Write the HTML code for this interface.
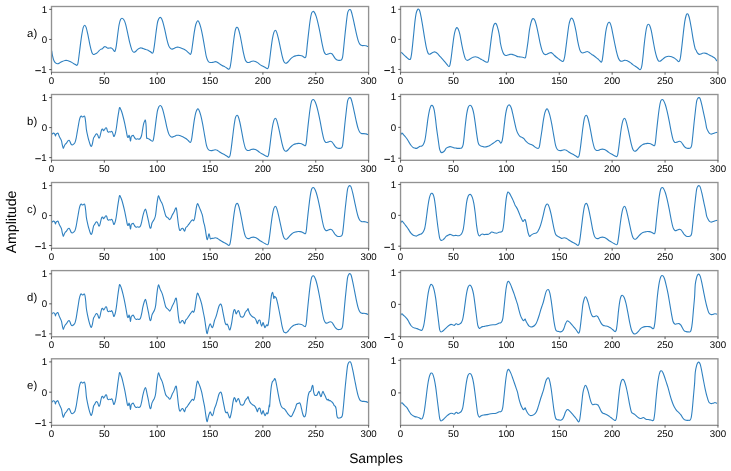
<!DOCTYPE html>
<html><head><meta charset="utf-8"><style>
html,body{margin:0;padding:0;background:#fff;}
svg{display:block;will-change:transform;}
text{font-family:"Liberation Sans",sans-serif;fill:#000;text-rendering:geometricPrecision;font-size:9.7px;}
</style></head><body>
<svg width="731" height="471" viewBox="0 0 731 471">
<rect width="731" height="471" fill="#fff"/>
<path d="M51.70 50.82C51.84 51.65 52.17 54.13 52.55 55.79C52.93 57.45 53.43 59.54 53.98 60.77C54.52 62.00 55.20 62.69 55.82 63.19C56.44 63.69 57.03 63.81 57.67 63.76C58.31 63.71 58.91 63.29 59.67 62.91C60.43 62.53 61.33 61.89 62.23 61.49C63.13 61.09 64.24 60.66 65.07 60.49C65.90 60.32 66.50 60.37 67.21 60.49C67.92 60.61 68.51 60.85 69.34 61.20C70.17 61.55 71.24 62.10 72.19 62.62C73.14 63.14 74.25 63.88 75.03 64.33C75.81 64.78 76.41 65.45 76.88 65.33C77.35 65.21 77.52 65.21 77.88 63.62C78.24 62.03 78.59 58.99 79.02 55.79C79.45 52.59 79.97 47.97 80.44 44.41C80.91 40.85 81.39 37.30 81.86 34.45C82.33 31.61 82.81 28.88 83.28 27.34C83.75 25.80 84.23 25.21 84.71 25.21C85.18 25.21 85.61 25.80 86.13 27.34C86.65 28.88 87.20 31.49 87.84 34.45C88.48 37.41 89.31 42.16 89.97 45.12C90.63 48.08 91.27 50.70 91.82 52.24C92.36 53.78 92.72 54.06 93.24 54.37C93.76 54.68 94.31 54.33 94.95 54.09C95.59 53.85 96.42 53.50 97.08 52.95C97.74 52.41 98.34 51.41 98.93 50.82C99.52 50.23 100.07 49.75 100.64 49.39C101.21 49.03 101.83 49.03 102.35 48.68C102.87 48.33 103.34 47.61 103.77 47.26C104.20 46.91 104.48 46.55 104.91 46.55C105.34 46.55 105.86 46.98 106.33 47.26C106.80 47.54 107.23 48.13 107.75 48.25C108.27 48.37 108.87 48.02 109.46 47.97C110.05 47.92 110.77 47.78 111.31 47.97C111.86 48.16 112.23 48.56 112.73 49.11C113.23 49.66 113.90 50.95 114.30 51.24C114.70 51.53 114.82 51.72 115.15 50.82C115.48 49.92 115.86 48.57 116.29 45.84C116.72 43.11 117.23 38.01 117.71 34.45C118.18 30.89 118.66 26.99 119.14 24.50C119.62 22.01 120.09 20.56 120.56 19.52C121.03 18.48 121.46 18.24 121.98 18.24C122.50 18.24 123.10 18.60 123.69 19.52C124.28 20.44 124.88 21.53 125.54 23.78C126.20 26.03 126.96 29.83 127.67 33.03C128.38 36.23 129.10 40.15 129.81 42.99C130.52 45.84 131.28 48.56 131.94 50.10C132.60 51.64 133.20 52.00 133.79 52.24C134.38 52.48 134.86 52.01 135.50 51.53C136.14 51.05 136.85 49.98 137.63 49.39C138.41 48.80 139.48 48.18 140.19 47.97C140.90 47.76 141.14 47.92 141.90 48.11C142.66 48.30 143.79 48.78 144.74 49.11C145.69 49.44 146.69 49.70 147.59 50.10C148.49 50.50 149.70 51.29 150.15 51.53C150.60 51.77 149.90 51.25 150.27 51.53C150.65 51.81 151.88 53.23 152.40 53.23C152.92 53.23 153.04 53.00 153.40 51.53C153.76 50.06 154.11 47.49 154.54 44.41C154.97 41.33 155.49 36.59 155.96 33.03C156.43 29.47 156.91 25.44 157.38 23.07C157.85 20.70 158.33 19.75 158.80 18.80C159.28 17.85 159.75 17.38 160.23 17.38C160.70 17.38 161.13 17.73 161.65 18.80C162.17 19.87 162.77 21.65 163.36 23.78C163.95 25.91 164.59 28.88 165.21 31.61C165.83 34.34 166.47 37.78 167.06 40.15C167.65 42.52 168.19 44.47 168.76 45.84C169.33 47.22 169.88 47.85 170.47 48.40C171.06 48.95 171.66 49.13 172.32 49.11C172.98 49.09 173.74 48.56 174.45 48.25C175.16 47.94 175.88 47.42 176.59 47.26C177.30 47.09 178.01 47.14 178.72 47.26C179.43 47.38 180.10 47.69 180.86 47.97C181.62 48.25 182.44 48.57 183.27 48.97C184.10 49.37 184.99 49.77 185.84 50.39C186.69 51.01 187.64 52.00 188.40 52.66C189.16 53.32 189.87 54.56 190.39 54.37C190.91 54.18 191.10 53.66 191.53 51.53C191.96 49.40 192.48 44.89 192.95 41.57C193.42 38.25 193.90 34.45 194.37 31.61C194.84 28.77 195.27 26.28 195.79 24.50C196.31 22.72 196.98 21.37 197.50 20.94C198.02 20.51 198.38 20.86 198.92 21.93C199.46 23.00 200.15 25.02 200.77 27.34C201.39 29.66 201.98 32.56 202.62 35.88C203.26 39.20 203.98 43.70 204.62 47.26C205.26 50.82 205.85 54.85 206.47 57.22C207.09 59.59 207.67 60.61 208.31 61.49C208.95 62.37 209.55 62.34 210.31 62.48C211.07 62.62 212.02 62.48 212.87 62.34C213.72 62.20 214.72 61.65 215.43 61.63C216.14 61.61 216.50 61.87 217.14 62.20C217.78 62.53 218.44 63.07 219.27 63.62C220.10 64.16 221.16 64.92 222.11 65.47C223.06 66.02 224.13 66.44 224.96 66.89C225.79 67.34 226.45 67.77 227.09 68.17C227.73 68.57 228.33 69.36 228.80 69.31C229.28 69.26 229.56 69.19 229.94 67.89C230.32 66.59 230.65 64.45 231.08 61.49C231.51 58.53 232.03 53.90 232.50 50.10C232.97 46.30 233.44 42.04 233.92 38.72C234.39 35.40 234.88 32.09 235.35 30.19C235.82 28.29 236.30 27.62 236.77 27.34C237.24 27.05 237.67 27.30 238.19 28.48C238.71 29.66 239.33 32.03 239.90 34.45C240.47 36.87 241.02 39.91 241.61 42.99C242.20 46.07 242.84 50.11 243.46 52.95C244.08 55.80 244.72 58.52 245.31 60.06C245.90 61.60 246.44 61.80 247.01 62.20C247.58 62.60 248.27 62.48 248.72 62.48C249.17 62.48 249.29 62.37 249.69 62.20C250.09 62.04 250.52 61.68 251.11 61.49C251.70 61.30 252.54 61.06 253.25 61.06C253.96 61.06 254.67 61.23 255.38 61.49C256.09 61.75 256.81 62.15 257.52 62.62C258.23 63.09 258.82 63.76 259.65 64.33C260.48 64.90 261.55 65.50 262.50 66.04C263.45 66.59 264.51 67.17 265.34 67.60C266.17 68.03 266.95 68.67 267.47 68.60C267.99 68.53 268.11 68.60 268.47 67.18C268.83 65.76 269.18 63.14 269.61 60.06C270.04 56.98 270.56 52.24 271.03 48.68C271.50 45.12 271.97 41.45 272.45 38.72C272.93 35.99 273.40 33.74 273.88 32.32C274.36 30.90 274.83 30.19 275.30 30.19C275.77 30.19 276.20 30.90 276.72 32.32C277.24 33.74 277.84 36.23 278.43 38.72C279.02 41.21 279.66 44.41 280.28 47.26C280.90 50.10 281.54 53.42 282.13 55.79C282.72 58.16 283.27 60.26 283.84 61.49C284.41 62.72 284.95 63.02 285.54 63.19C286.13 63.35 286.73 63.00 287.39 62.48C288.05 61.96 288.82 60.82 289.53 60.06C290.24 59.30 290.95 58.52 291.66 57.93C292.37 57.34 293.08 56.87 293.79 56.51C294.50 56.15 295.22 55.98 295.93 55.79C296.64 55.60 297.35 55.42 298.06 55.37C298.77 55.32 299.49 55.39 300.20 55.51C300.91 55.63 301.69 55.80 302.33 56.08C302.97 56.36 303.52 56.98 304.04 57.22C304.56 57.46 305.08 57.98 305.46 57.50C305.84 57.02 306.00 56.55 306.31 54.37C306.62 52.19 306.91 48.20 307.31 44.41C307.71 40.62 308.25 35.64 308.73 31.61C309.21 27.58 309.69 23.31 310.16 20.23C310.63 17.15 311.11 14.58 311.58 13.11C312.05 11.64 312.53 11.53 313.00 11.41C313.47 11.29 313.88 11.52 314.42 12.40C314.97 13.28 315.68 14.89 316.27 16.67C316.86 18.45 317.34 20.34 317.98 23.07C318.62 25.80 319.40 29.47 320.11 33.03C320.82 36.59 321.61 41.33 322.25 44.41C322.89 47.49 323.37 49.87 323.96 51.53C324.55 53.19 325.15 53.94 325.81 54.37C326.47 54.80 327.23 54.28 327.94 54.09C328.65 53.90 329.41 53.28 330.07 53.23C330.73 53.18 331.33 53.32 331.92 53.80C332.51 54.27 333.06 55.27 333.63 56.08C334.20 56.89 334.75 57.98 335.34 58.64C335.93 59.30 336.53 59.78 337.19 60.06C337.85 60.34 338.61 60.40 339.32 60.35C340.03 60.30 340.91 60.30 341.46 59.78C342.00 59.26 342.23 59.07 342.59 57.22C342.94 55.37 343.19 52.48 343.59 48.68C343.99 44.88 344.53 38.96 345.01 34.45C345.49 29.95 346.01 25.21 346.44 21.65C346.87 18.09 347.20 15.01 347.58 13.11C347.96 11.21 348.32 10.86 348.72 10.27C349.12 9.68 349.60 9.44 350.00 9.56C350.40 9.68 350.67 9.68 351.14 10.98C351.61 12.28 352.25 14.89 352.84 17.38C353.43 19.87 354.07 23.08 354.69 25.92C355.31 28.77 355.95 31.96 356.54 34.45C357.13 36.94 357.68 39.20 358.25 40.86C358.82 42.52 359.37 43.63 359.96 44.41C360.55 45.19 361.15 45.36 361.81 45.55C362.47 45.74 363.23 45.50 363.94 45.55C364.65 45.60 365.41 45.67 366.07 45.84C366.73 46.01 367.61 46.43 367.92 46.55" fill="none" stroke="#2f80c0" stroke-width="1.10" stroke-linejoin="round" stroke-linecap="round"/>
<rect x="51.50" y="6.50" width="317.10" height="65.90" fill="none" stroke="#929292" stroke-width="1.35"/>
<line x1="51.50" y1="72.40" x2="51.50" y2="74.70" stroke="#333" stroke-width="0.8"/>
<text x="51.50" y="83.85" text-anchor="middle">0</text>
<line x1="104.35" y1="72.40" x2="104.35" y2="74.70" stroke="#333" stroke-width="0.8"/>
<text x="104.35" y="83.85" text-anchor="middle">50</text>
<line x1="157.20" y1="72.40" x2="157.20" y2="74.70" stroke="#333" stroke-width="0.8"/>
<text x="157.20" y="83.85" text-anchor="middle">100</text>
<line x1="210.05" y1="72.40" x2="210.05" y2="74.70" stroke="#333" stroke-width="0.8"/>
<text x="210.05" y="83.85" text-anchor="middle">150</text>
<line x1="262.90" y1="72.40" x2="262.90" y2="74.70" stroke="#333" stroke-width="0.8"/>
<text x="262.90" y="83.85" text-anchor="middle">200</text>
<line x1="315.75" y1="72.40" x2="315.75" y2="74.70" stroke="#333" stroke-width="0.8"/>
<text x="315.75" y="83.85" text-anchor="middle">250</text>
<line x1="368.60" y1="72.40" x2="368.60" y2="74.70" stroke="#333" stroke-width="0.8"/>
<text x="368.60" y="83.85" text-anchor="middle">300</text>
<line x1="49.20" y1="9.36" x2="51.50" y2="9.36" stroke="#333" stroke-width="0.8"/>
<text x="47.10" y="12.86" text-anchor="end">1</text>
<line x1="49.20" y1="39.45" x2="51.50" y2="39.45" stroke="#333" stroke-width="0.8"/>
<text x="47.10" y="42.95" text-anchor="end">0</text>
<line x1="49.20" y1="69.55" x2="51.50" y2="69.55" stroke="#333" stroke-width="0.8"/>
<text x="46.60" y="73.15" text-anchor="end">1</text>
<rect x="35.30" y="70.20" width="5.6" height="0.95" fill="#000"/>
<path d="M400.84 52.24C401.03 52.36 401.55 52.60 401.98 52.95C402.41 53.30 402.85 53.85 403.40 54.37C403.94 54.89 404.61 55.49 405.25 56.08C405.89 56.67 406.60 57.38 407.24 57.93C407.88 58.48 408.54 59.19 409.09 59.35C409.64 59.52 410.12 59.75 410.52 58.92C410.92 58.09 411.15 56.79 411.51 54.37C411.87 51.95 412.27 47.97 412.65 44.41C413.03 40.85 413.41 36.82 413.79 33.03C414.17 29.24 414.53 24.97 414.93 21.65C415.33 18.33 415.76 15.12 416.21 13.11C416.66 11.09 417.23 10.22 417.63 9.56C418.03 8.90 418.27 8.89 418.63 9.13C418.99 9.37 419.33 9.61 419.76 10.98C420.19 12.36 420.67 14.65 421.19 17.38C421.71 20.11 422.30 23.78 422.89 27.34C423.48 30.90 424.12 35.16 424.74 38.72C425.36 42.28 426.00 46.19 426.59 48.68C427.18 51.17 427.73 52.76 428.30 53.66C428.87 54.56 429.42 54.21 430.01 54.09C430.60 53.97 431.20 53.31 431.86 52.95C432.52 52.59 433.35 52.07 433.99 51.95C434.63 51.83 435.11 51.96 435.70 52.24C436.29 52.52 436.89 53.02 437.55 53.66C438.21 54.30 438.97 55.30 439.68 56.08C440.39 56.86 441.11 57.58 441.82 58.36C442.53 59.14 443.24 59.94 443.95 60.77C444.66 61.60 445.42 62.51 446.08 63.34C446.74 64.17 447.45 65.23 447.93 65.75C448.41 66.27 448.60 66.59 448.93 66.47C449.26 66.35 449.56 66.34 449.92 65.04C450.28 63.74 450.63 61.60 451.06 58.64C451.49 55.68 452.01 50.93 452.49 47.26C452.97 43.59 453.44 39.44 453.91 36.59C454.38 33.75 454.86 31.68 455.33 30.19C455.80 28.70 456.27 27.82 456.75 27.63C457.23 27.44 457.66 27.91 458.18 29.05C458.70 30.19 459.29 31.89 459.88 34.45C460.47 37.01 461.11 41.33 461.73 44.41C462.35 47.49 462.99 50.58 463.58 52.95C464.17 55.32 464.72 57.41 465.29 58.64C465.86 59.87 466.41 60.16 467.00 60.35C467.59 60.54 468.19 60.11 468.85 59.78C469.51 59.45 470.27 58.79 470.98 58.36C471.69 57.93 472.40 57.48 473.11 57.22C473.82 56.96 474.54 56.79 475.25 56.79C475.96 56.79 476.67 56.96 477.38 57.22C478.09 57.48 478.81 57.96 479.52 58.36C480.23 58.76 480.94 59.24 481.65 59.64C482.36 60.04 483.08 60.39 483.79 60.77C484.50 61.15 485.33 61.67 485.92 61.91C486.51 62.15 486.94 62.39 487.34 62.20C487.74 62.01 487.98 62.31 488.34 60.77C488.70 59.23 489.05 56.15 489.48 52.95C489.91 49.75 490.43 45.13 490.90 41.57C491.37 38.01 491.85 34.34 492.32 31.61C492.79 28.88 493.26 26.59 493.74 25.21C494.22 23.84 494.70 23.48 495.17 23.36C495.64 23.24 496.07 23.36 496.59 24.50C497.11 25.64 497.78 28.06 498.30 30.19C498.82 32.32 499.37 35.17 499.72 37.30C500.07 39.43 500.01 40.86 500.41 42.99C500.81 45.12 501.54 48.25 502.11 50.10C502.68 51.95 503.23 53.19 503.82 54.09C504.41 54.99 505.01 55.34 505.67 55.51C506.33 55.67 507.09 55.27 507.80 55.08C508.51 54.89 509.23 54.49 509.94 54.37C510.65 54.25 511.36 54.25 512.07 54.37C512.78 54.49 513.50 54.80 514.21 55.08C514.92 55.36 515.63 55.80 516.34 56.08C517.05 56.36 517.76 56.65 518.47 56.79C519.18 56.93 519.90 56.86 520.61 56.93C521.32 57.00 522.08 57.05 522.74 57.22C523.40 57.39 524.12 57.93 524.59 57.93C525.07 57.93 525.26 58.29 525.59 57.22C525.92 56.15 526.18 54.14 526.58 51.53C526.98 48.92 527.53 45.13 528.01 41.57C528.49 38.01 528.96 33.27 529.43 30.19C529.90 27.11 530.38 24.92 530.85 23.07C531.32 21.22 531.79 19.80 532.27 19.09C532.75 18.38 533.23 18.49 533.70 18.80C534.18 19.11 534.65 19.75 535.12 20.94C535.59 22.13 536.00 23.67 536.54 25.92C537.08 28.17 537.77 31.49 538.39 34.45C539.01 37.41 539.65 41.09 540.24 43.70C540.83 46.31 541.38 48.44 541.95 50.10C542.52 51.76 543.07 52.90 543.66 53.66C544.25 54.42 544.89 54.59 545.51 54.66C546.13 54.73 546.72 54.38 547.36 54.09C548.00 53.81 548.71 53.19 549.35 52.95C549.99 52.71 550.66 52.54 551.20 52.66C551.75 52.78 552.08 53.18 552.62 53.66C553.16 54.13 553.83 54.92 554.47 55.51C555.11 56.10 555.75 56.65 556.46 57.22C557.17 57.79 558.03 58.40 558.74 58.92C559.45 59.44 560.09 59.92 560.73 60.35C561.37 60.78 562.11 61.42 562.58 61.49C563.05 61.56 563.22 61.60 563.57 60.77C563.93 59.94 564.28 59.00 564.71 56.51C565.14 54.02 565.66 49.52 566.14 45.84C566.62 42.16 567.09 38.01 567.56 34.45C568.03 30.89 568.51 26.99 568.98 24.50C569.45 22.01 569.97 20.59 570.40 19.52C570.83 18.45 571.11 18.09 571.54 18.09C571.97 18.09 572.49 18.57 572.96 19.52C573.44 20.47 573.87 21.77 574.39 23.78C574.91 25.80 575.52 28.64 576.09 31.61C576.66 34.58 577.21 38.61 577.80 41.57C578.39 44.53 579.11 47.61 579.65 49.39C580.19 51.17 580.53 51.65 581.07 52.24C581.62 52.83 582.28 52.95 582.92 52.95C583.56 52.95 584.21 52.48 584.92 52.24C585.63 52.00 586.53 51.53 587.19 51.53C587.85 51.53 588.33 51.89 588.90 52.24C589.47 52.59 589.95 53.19 590.61 53.66C591.27 54.13 592.17 54.60 592.88 55.08C593.59 55.55 594.16 55.96 594.87 56.51C595.58 57.06 596.56 57.89 597.15 58.36C597.74 58.83 597.92 58.88 598.41 59.35C598.90 59.82 599.64 60.73 600.11 61.20C600.58 61.68 600.89 62.39 601.25 62.20C601.61 62.01 601.92 61.60 602.25 60.06C602.58 58.52 602.88 55.80 603.24 52.95C603.60 50.11 603.95 46.55 604.38 42.99C604.81 39.43 605.32 34.57 605.80 31.61C606.27 28.65 606.75 26.75 607.23 25.21C607.71 23.67 608.18 22.72 608.65 22.36C609.12 22.00 609.60 22.24 610.07 23.07C610.55 23.90 611.02 25.44 611.50 27.34C611.98 29.24 612.40 31.84 612.92 34.45C613.44 37.06 614.04 40.14 614.63 42.99C615.22 45.84 615.86 49.04 616.47 51.53C617.09 54.02 617.73 56.39 618.32 57.93C618.91 59.47 619.39 60.23 620.03 60.77C620.67 61.32 621.46 61.27 622.17 61.20C622.88 61.13 623.59 60.47 624.30 60.35C625.01 60.23 625.72 60.30 626.43 60.49C627.14 60.68 627.86 61.09 628.57 61.49C629.28 61.89 629.99 62.39 630.70 62.91C631.41 63.43 632.13 64.10 632.84 64.62C633.55 65.14 634.26 65.57 634.97 66.04C635.68 66.51 636.46 66.99 637.10 67.46C637.74 67.93 638.33 68.52 638.81 68.88C639.28 69.24 639.57 69.65 639.95 69.60C640.33 69.55 640.74 69.48 641.09 68.60C641.45 67.72 641.75 66.47 642.08 64.33C642.41 62.20 642.72 59.11 643.08 55.79C643.44 52.47 643.79 48.20 644.22 44.41C644.65 40.62 645.17 36.11 645.64 33.03C646.11 29.95 646.58 27.39 647.06 25.92C647.53 24.45 648.01 24.21 648.49 24.21C648.97 24.21 649.44 24.81 649.91 25.92C650.38 27.04 650.81 28.53 651.33 30.90C651.85 33.27 652.45 36.95 653.04 40.15C653.63 43.35 654.27 47.26 654.89 50.10C655.51 52.95 656.15 55.44 656.74 57.22C657.33 59.00 657.87 60.11 658.44 60.77C659.01 61.43 659.56 61.37 660.15 61.20C660.74 61.04 661.34 60.33 662.00 59.78C662.66 59.23 663.43 58.43 664.14 57.93C664.85 57.43 665.56 57.08 666.27 56.79C666.98 56.50 667.69 56.27 668.40 56.22C669.11 56.17 669.83 56.34 670.54 56.51C671.25 56.68 671.96 56.91 672.67 57.22C673.38 57.53 674.10 57.89 674.81 58.36C675.52 58.83 676.35 59.54 676.94 60.06C677.53 60.58 677.93 61.32 678.36 61.49C678.79 61.66 679.14 61.77 679.50 61.06C679.86 60.35 680.10 59.76 680.50 57.22C680.90 54.68 681.45 49.87 681.92 45.84C682.39 41.81 682.87 37.06 683.34 33.03C683.81 29.00 684.28 24.61 684.76 21.65C685.24 18.69 685.79 16.55 686.19 15.25C686.59 13.95 686.82 13.89 687.18 13.82C687.53 13.75 687.89 13.87 688.32 14.82C688.75 15.77 689.22 17.20 689.74 19.52C690.26 21.84 690.86 25.32 691.45 28.76C692.04 32.20 692.68 36.83 693.30 40.15C693.92 43.47 694.70 47.02 695.15 48.68C695.60 50.34 695.62 49.39 696.00 50.10C696.38 50.81 696.88 52.24 697.42 52.95C697.96 53.66 698.56 54.25 699.27 54.37C699.98 54.49 700.93 53.90 701.69 53.66C702.45 53.42 703.12 53.00 703.83 52.95C704.54 52.90 705.25 53.14 705.96 53.38C706.67 53.62 707.38 54.02 708.09 54.37C708.80 54.72 709.52 55.15 710.23 55.51C710.94 55.87 711.72 56.18 712.36 56.51C713.00 56.84 713.55 57.10 714.07 57.50C714.59 57.90 715.06 58.38 715.49 58.92C715.92 59.47 716.44 60.46 716.63 60.77" fill="none" stroke="#2f80c0" stroke-width="1.10" stroke-linejoin="round" stroke-linecap="round"/>
<rect x="400.55" y="6.50" width="317.40" height="65.90" fill="none" stroke="#929292" stroke-width="1.35"/>
<line x1="400.55" y1="72.40" x2="400.55" y2="74.70" stroke="#333" stroke-width="0.8"/>
<text x="400.55" y="83.85" text-anchor="middle">0</text>
<line x1="453.45" y1="72.40" x2="453.45" y2="74.70" stroke="#333" stroke-width="0.8"/>
<text x="453.45" y="83.85" text-anchor="middle">50</text>
<line x1="506.35" y1="72.40" x2="506.35" y2="74.70" stroke="#333" stroke-width="0.8"/>
<text x="506.35" y="83.85" text-anchor="middle">100</text>
<line x1="559.25" y1="72.40" x2="559.25" y2="74.70" stroke="#333" stroke-width="0.8"/>
<text x="559.25" y="83.85" text-anchor="middle">150</text>
<line x1="612.15" y1="72.40" x2="612.15" y2="74.70" stroke="#333" stroke-width="0.8"/>
<text x="612.15" y="83.85" text-anchor="middle">200</text>
<line x1="665.05" y1="72.40" x2="665.05" y2="74.70" stroke="#333" stroke-width="0.8"/>
<text x="665.05" y="83.85" text-anchor="middle">250</text>
<line x1="717.95" y1="72.40" x2="717.95" y2="74.70" stroke="#333" stroke-width="0.8"/>
<text x="717.95" y="83.85" text-anchor="middle">300</text>
<line x1="398.25" y1="9.30" x2="400.55" y2="9.30" stroke="#333" stroke-width="0.8"/>
<text x="396.15" y="12.80" text-anchor="end">1</text>
<line x1="398.25" y1="39.38" x2="400.55" y2="39.38" stroke="#333" stroke-width="0.8"/>
<text x="396.15" y="42.88" text-anchor="end">0</text>
<line x1="398.25" y1="69.45" x2="400.55" y2="69.45" stroke="#333" stroke-width="0.8"/>
<text x="395.65" y="73.05" text-anchor="end">1</text>
<rect x="384.35" y="70.10" width="5.6" height="0.95" fill="#000"/>
<text x="27.1" y="36.90" style="font-size:11.3px">a)</text>
<path d="M51.70 134.55C51.84 134.38 52.22 133.79 52.55 133.55C52.88 133.31 53.31 133.03 53.69 133.12C54.07 133.22 54.55 133.65 54.83 134.12C55.11 134.59 55.21 135.90 55.40 135.97C55.59 136.04 55.73 134.95 55.97 134.55C56.21 134.15 56.49 133.79 56.82 133.55C57.15 133.31 57.58 132.72 57.96 133.12C58.34 133.52 58.67 135.02 59.10 135.97C59.53 136.92 60.12 137.99 60.52 138.82C60.92 139.65 61.24 140.00 61.52 140.95C61.80 141.90 61.95 143.32 62.23 144.51C62.51 145.69 62.94 147.66 63.22 148.06C63.50 148.46 63.62 147.51 63.93 146.92C64.24 146.33 64.64 145.15 65.07 144.51C65.50 143.87 66.03 143.67 66.50 143.08C66.97 142.49 67.49 141.42 67.92 140.95C68.35 140.48 68.70 140.12 69.06 140.24C69.42 140.36 69.72 141.02 70.05 141.66C70.38 142.30 70.69 143.54 71.05 144.08C71.41 144.62 71.76 144.93 72.19 144.93C72.62 144.93 73.14 144.51 73.61 144.08C74.08 143.65 74.60 143.37 75.03 142.37C75.46 141.37 75.81 139.76 76.17 138.10C76.53 136.44 76.84 134.31 77.17 132.41C77.50 130.51 77.80 128.74 78.16 126.72C78.52 124.70 78.92 121.98 79.30 120.32C79.68 118.66 80.08 117.47 80.44 116.76C80.80 116.05 81.10 116.00 81.43 116.05C81.76 116.10 82.12 116.93 82.43 117.05C82.74 117.17 82.97 116.93 83.28 116.76C83.59 116.59 84.00 115.93 84.28 116.05C84.56 116.17 84.75 116.40 84.99 117.47C85.23 118.54 85.46 120.43 85.70 122.45C85.94 124.47 86.10 127.44 86.41 129.57C86.72 131.70 87.12 133.36 87.55 135.26C87.98 137.16 88.50 139.29 88.97 140.95C89.44 142.61 90.00 144.32 90.40 145.22C90.80 146.12 91.06 146.60 91.39 146.36C91.72 146.12 92.03 145.17 92.39 143.79C92.75 142.41 93.15 139.33 93.53 138.10C93.91 136.87 94.30 136.99 94.66 136.40C95.02 135.81 95.33 134.98 95.66 134.55C95.99 134.12 96.30 133.72 96.66 133.84C97.02 133.96 97.41 134.55 97.79 135.26C98.17 135.97 98.57 137.86 98.93 138.10C99.29 138.34 99.60 137.63 99.93 136.68C100.26 135.73 100.61 133.59 100.92 132.41C101.23 131.22 101.47 130.09 101.78 129.57C102.09 129.05 102.48 129.09 102.77 129.28C103.05 129.47 103.18 130.66 103.49 130.71C103.80 130.76 104.27 130.04 104.62 129.57C104.98 129.09 105.29 128.10 105.62 127.86C105.95 127.62 106.31 127.58 106.62 128.15C106.93 128.72 107.16 130.61 107.47 131.27C107.78 131.93 108.14 132.06 108.47 132.13C108.80 132.20 109.10 131.72 109.46 131.70C109.81 131.68 110.22 132.06 110.60 131.99C110.98 131.92 111.38 131.08 111.74 131.27C112.09 131.46 112.40 132.27 112.73 133.12C113.06 133.97 113.42 136.00 113.73 136.40C114.04 136.80 114.27 136.20 114.58 135.54C114.89 134.88 115.25 133.88 115.58 132.41C115.91 130.94 116.21 129.09 116.57 126.72C116.92 124.35 117.33 120.80 117.71 118.19C118.09 115.58 118.54 112.85 118.85 111.07C119.16 109.29 119.28 107.88 119.56 107.52C119.84 107.16 120.20 108.23 120.56 108.94C120.92 109.65 121.27 110.48 121.70 111.78C122.13 113.08 122.60 114.74 123.12 116.76C123.64 118.78 124.31 121.51 124.83 123.88C125.35 126.25 125.82 128.86 126.25 130.99C126.68 133.12 127.06 135.61 127.39 136.68C127.72 137.75 127.96 137.63 128.24 137.39C128.52 137.15 128.81 135.14 129.09 135.26C129.38 135.38 129.71 137.15 129.95 138.10C130.19 139.05 130.31 141.19 130.52 140.95C130.73 140.71 130.99 137.51 131.23 136.68C131.47 135.85 131.63 136.21 131.94 135.97C132.25 135.73 132.73 135.14 133.08 135.26C133.44 135.38 133.74 136.16 134.07 136.68C134.40 137.20 134.71 137.96 135.07 138.39C135.43 138.82 135.78 139.17 136.21 139.24C136.64 139.31 137.16 138.82 137.63 138.82C138.10 138.82 138.58 139.36 139.05 139.24C139.53 139.12 140.05 138.76 140.48 138.10C140.91 137.44 141.25 136.68 141.61 135.26C141.97 133.84 142.28 131.47 142.61 129.57C142.94 127.67 143.26 125.30 143.61 123.88C143.97 122.46 144.43 121.62 144.74 121.03C145.05 120.44 145.22 119.37 145.46 120.32C145.70 121.27 145.98 123.88 146.17 126.72C146.36 129.56 146.35 135.44 146.59 137.39C146.83 139.33 147.14 138.08 147.59 138.39C148.04 138.70 148.78 138.93 149.30 139.24C149.82 139.55 150.20 139.90 150.72 140.24C151.24 140.58 151.95 141.39 152.40 141.28C152.85 141.17 153.04 141.05 153.40 139.58C153.76 138.11 154.11 135.54 154.54 132.46C154.97 129.38 155.49 124.64 155.96 121.08C156.43 117.52 156.91 113.49 157.38 111.12C157.85 108.75 158.33 107.80 158.80 106.85C159.28 105.90 159.75 105.43 160.23 105.43C160.70 105.43 161.13 105.78 161.65 106.85C162.17 107.92 162.77 109.69 163.36 111.83C163.95 113.97 164.59 116.93 165.21 119.66C165.83 122.39 166.47 125.83 167.06 128.20C167.65 130.57 168.19 132.51 168.76 133.89C169.33 135.26 169.88 135.90 170.47 136.45C171.06 137.00 171.66 137.19 172.32 137.16C172.98 137.13 173.74 136.61 174.45 136.30C175.16 135.99 175.88 135.47 176.59 135.31C177.30 135.15 178.01 135.19 178.72 135.31C179.43 135.43 180.10 135.73 180.86 136.02C181.62 136.30 182.44 136.62 183.27 137.02C184.10 137.42 184.99 137.82 185.84 138.44C186.69 139.06 187.64 140.05 188.40 140.71C189.16 141.37 189.87 142.61 190.39 142.42C190.91 142.23 191.10 141.71 191.53 139.58C191.96 137.45 192.48 132.94 192.95 129.62C193.42 126.30 193.90 122.50 194.37 119.66C194.84 116.81 195.27 114.33 195.79 112.55C196.31 110.77 196.98 109.42 197.50 108.99C198.02 108.56 198.38 108.91 198.92 109.98C199.46 111.05 200.15 113.06 200.77 115.39C201.39 117.72 201.98 120.61 202.62 123.93C203.26 127.25 203.98 131.75 204.62 135.31C205.26 138.87 205.85 142.90 206.47 145.27C207.09 147.64 207.67 148.66 208.31 149.54C208.95 150.42 209.55 150.39 210.31 150.53C211.07 150.67 212.02 150.53 212.87 150.39C213.72 150.25 214.72 149.70 215.43 149.68C216.14 149.66 216.50 149.92 217.14 150.25C217.78 150.58 218.44 151.12 219.27 151.67C220.10 152.21 221.16 152.97 222.11 153.52C223.06 154.06 224.13 154.49 224.96 154.94C225.79 155.39 226.45 155.82 227.09 156.22C227.73 156.62 228.33 157.41 228.80 157.36C229.28 157.31 229.56 157.24 229.94 155.94C230.32 154.64 230.65 152.50 231.08 149.54C231.51 146.57 232.03 141.94 232.50 138.15C232.97 134.36 233.44 130.09 233.92 126.77C234.39 123.45 234.88 120.14 235.35 118.24C235.82 116.34 236.30 115.67 236.77 115.39C237.24 115.11 237.67 115.34 238.19 116.53C238.71 117.72 239.33 120.08 239.90 122.50C240.47 124.92 241.02 127.96 241.61 131.04C242.20 134.12 242.84 138.16 243.46 141.00C244.08 143.84 244.72 146.57 245.31 148.11C245.90 149.65 246.44 149.85 247.01 150.25C247.58 150.65 248.27 150.53 248.72 150.53C249.17 150.53 249.29 150.41 249.69 150.25C250.09 150.09 250.52 149.73 251.11 149.54C251.70 149.35 252.54 149.11 253.25 149.11C253.96 149.11 254.67 149.28 255.38 149.54C256.09 149.80 256.81 150.20 257.52 150.67C258.23 151.14 258.82 151.81 259.65 152.38C260.48 152.95 261.55 153.55 262.50 154.09C263.45 154.63 264.51 155.22 265.34 155.65C266.17 156.08 266.95 156.72 267.47 156.65C267.99 156.58 268.11 156.65 268.47 155.23C268.83 153.81 269.18 151.19 269.61 148.11C270.04 145.03 270.56 140.29 271.03 136.73C271.50 133.17 271.97 129.50 272.45 126.77C272.93 124.04 273.40 121.79 273.88 120.37C274.36 118.95 274.83 118.24 275.30 118.24C275.77 118.24 276.20 118.95 276.72 120.37C277.24 121.79 277.84 124.28 278.43 126.77C279.02 129.26 279.66 132.47 280.28 135.31C280.90 138.16 281.54 141.47 282.13 143.84C282.72 146.21 283.27 148.31 283.84 149.54C284.41 150.77 284.95 151.08 285.54 151.24C286.13 151.41 286.73 151.05 287.39 150.53C288.05 150.01 288.82 148.87 289.53 148.11C290.24 147.35 290.95 146.57 291.66 145.98C292.37 145.39 293.08 144.92 293.79 144.56C294.50 144.20 295.22 144.03 295.93 143.84C296.64 143.65 297.35 143.47 298.06 143.42C298.77 143.37 299.49 143.44 300.20 143.56C300.91 143.68 301.69 143.84 302.33 144.13C302.97 144.41 303.52 145.03 304.04 145.27C304.56 145.51 305.08 146.03 305.46 145.55C305.84 145.08 306.00 144.60 306.31 142.42C306.62 140.24 306.91 136.25 307.31 132.46C307.71 128.67 308.25 123.69 308.73 119.66C309.21 115.63 309.69 111.36 310.16 108.28C310.63 105.20 311.11 102.63 311.58 101.16C312.05 99.69 312.53 99.58 313.00 99.46C313.47 99.34 313.88 99.57 314.42 100.45C314.97 101.33 315.68 102.94 316.27 104.72C316.86 106.50 317.34 108.39 317.98 111.12C318.62 113.85 319.40 117.52 320.11 121.08C320.82 124.64 321.61 129.38 322.25 132.46C322.89 135.54 323.37 137.92 323.96 139.58C324.55 141.24 325.15 141.99 325.81 142.42C326.47 142.85 327.23 142.33 327.94 142.14C328.65 141.95 329.41 141.33 330.07 141.28C330.73 141.23 331.33 141.38 331.92 141.85C332.51 142.32 333.06 143.32 333.63 144.13C334.20 144.94 334.75 146.03 335.34 146.69C335.93 147.35 336.53 147.83 337.19 148.11C337.85 148.40 338.61 148.45 339.32 148.40C340.03 148.35 340.91 148.35 341.46 147.83C342.00 147.31 342.23 147.12 342.59 145.27C342.94 143.42 343.19 140.52 343.59 136.73C343.99 132.94 344.53 127.00 345.01 122.50C345.49 118.00 346.01 113.26 346.44 109.70C346.87 106.14 347.20 103.06 347.58 101.16C347.96 99.26 348.32 98.91 348.72 98.32C349.12 97.73 349.60 97.49 350.00 97.61C350.40 97.73 350.67 97.73 351.14 99.03C351.61 100.33 352.25 102.94 352.84 105.43C353.43 107.92 354.07 111.12 354.69 113.97C355.31 116.81 355.95 120.01 356.54 122.50C357.13 124.99 357.68 127.25 358.25 128.91C358.82 130.57 359.37 131.68 359.96 132.46C360.55 133.24 361.15 133.41 361.81 133.60C362.47 133.79 363.23 133.55 363.94 133.60C364.65 133.65 365.41 133.72 366.07 133.89C366.73 134.06 367.61 134.48 367.92 134.60" fill="none" stroke="#2f80c0" stroke-width="1.10" stroke-linejoin="round" stroke-linecap="round"/>
<rect x="51.50" y="94.50" width="317.10" height="65.80" fill="none" stroke="#929292" stroke-width="1.35"/>
<line x1="51.50" y1="160.30" x2="51.50" y2="162.60" stroke="#333" stroke-width="0.8"/>
<text x="51.50" y="171.75" text-anchor="middle">0</text>
<line x1="104.35" y1="160.30" x2="104.35" y2="162.60" stroke="#333" stroke-width="0.8"/>
<text x="104.35" y="171.75" text-anchor="middle">50</text>
<line x1="157.20" y1="160.30" x2="157.20" y2="162.60" stroke="#333" stroke-width="0.8"/>
<text x="157.20" y="171.75" text-anchor="middle">100</text>
<line x1="210.05" y1="160.30" x2="210.05" y2="162.60" stroke="#333" stroke-width="0.8"/>
<text x="210.05" y="171.75" text-anchor="middle">150</text>
<line x1="262.90" y1="160.30" x2="262.90" y2="162.60" stroke="#333" stroke-width="0.8"/>
<text x="262.90" y="171.75" text-anchor="middle">200</text>
<line x1="315.75" y1="160.30" x2="315.75" y2="162.60" stroke="#333" stroke-width="0.8"/>
<text x="315.75" y="171.75" text-anchor="middle">250</text>
<line x1="368.60" y1="160.30" x2="368.60" y2="162.60" stroke="#333" stroke-width="0.8"/>
<text x="368.60" y="171.75" text-anchor="middle">300</text>
<line x1="49.20" y1="97.60" x2="51.50" y2="97.60" stroke="#333" stroke-width="0.8"/>
<text x="47.10" y="101.10" text-anchor="end">1</text>
<line x1="49.20" y1="127.60" x2="51.50" y2="127.60" stroke="#333" stroke-width="0.8"/>
<text x="47.10" y="131.10" text-anchor="end">0</text>
<line x1="49.20" y1="157.60" x2="51.50" y2="157.60" stroke="#333" stroke-width="0.8"/>
<text x="46.60" y="161.20" text-anchor="end">1</text>
<rect x="35.30" y="158.25" width="5.6" height="0.95" fill="#000"/>
<path d="M400.84 134.55C401.03 134.31 401.55 133.12 401.98 133.12C402.41 133.12 402.85 133.96 403.40 134.55C403.94 135.14 404.61 135.90 405.25 136.68C405.89 137.46 406.60 138.29 407.24 139.24C407.88 140.19 408.47 141.37 409.09 142.37C409.71 143.37 410.30 144.39 410.94 145.22C411.58 146.05 412.29 146.88 412.93 147.35C413.57 147.82 414.16 147.89 414.78 148.06C415.40 148.23 416.04 148.47 416.63 148.35C417.22 148.23 417.77 147.68 418.34 147.35C418.91 147.02 419.46 146.60 420.05 146.36C420.64 146.12 421.35 146.24 421.90 145.93C422.44 145.62 422.85 145.34 423.32 144.51C423.79 143.68 424.34 142.49 424.74 140.95C425.14 139.41 425.38 137.63 425.74 135.26C426.10 132.89 426.50 129.56 426.88 126.72C427.26 123.88 427.59 120.92 428.02 118.19C428.45 115.46 428.97 112.38 429.44 110.36C429.91 108.34 430.43 106.92 430.86 106.09C431.29 105.26 431.62 105.31 432.00 105.38C432.38 105.45 432.76 105.69 433.14 106.52C433.52 107.35 433.89 108.41 434.27 110.36C434.65 112.31 435.03 115.22 435.41 118.19C435.79 121.16 436.12 124.83 436.55 128.15C436.98 131.47 437.50 134.78 437.97 138.10C438.45 141.42 438.97 145.81 439.40 148.06C439.83 150.31 440.13 150.86 440.53 151.62C440.93 152.38 441.37 152.55 441.82 152.62C442.27 152.69 442.77 152.38 443.24 152.05C443.71 151.72 444.19 151.24 444.66 150.62C445.13 150.00 445.53 148.89 446.08 148.35C446.62 147.81 447.29 147.63 447.93 147.35C448.57 147.06 449.28 146.71 449.92 146.64C450.56 146.57 451.15 146.73 451.77 146.92C452.39 147.11 452.98 147.59 453.62 147.78C454.26 147.97 454.91 147.97 455.62 148.06C456.33 148.16 457.18 148.30 457.89 148.35C458.60 148.40 459.24 148.44 459.88 148.35C460.52 148.25 461.18 148.42 461.73 147.78C462.28 147.14 462.76 146.36 463.16 144.51C463.56 142.66 463.79 139.88 464.15 136.68C464.50 133.48 464.86 129.09 465.29 125.30C465.72 121.51 466.24 116.88 466.71 113.92C467.18 110.96 467.66 108.94 468.14 107.52C468.62 106.10 469.09 105.69 469.56 105.38C470.03 105.07 470.51 105.19 470.98 105.67C471.45 106.15 471.92 106.86 472.40 108.23C472.88 109.61 473.35 111.43 473.83 113.92C474.31 116.41 474.78 119.85 475.25 123.17C475.72 126.49 476.20 130.64 476.67 133.84C477.14 137.04 477.62 140.47 478.09 142.37C478.56 144.27 478.93 144.56 479.52 145.22C480.11 145.88 480.94 146.08 481.65 146.36C482.36 146.64 483.08 146.83 483.79 146.92C484.50 147.01 485.21 147.01 485.92 146.92C486.63 146.83 487.34 146.64 488.05 146.36C488.76 146.08 489.48 145.65 490.19 145.22C490.90 144.79 491.61 144.26 492.32 143.79C493.03 143.31 493.79 142.84 494.46 142.37C495.12 141.90 495.76 141.30 496.31 140.95C496.86 140.59 497.26 140.24 497.73 140.24C498.20 140.24 498.75 140.59 499.15 140.95C499.55 141.30 499.84 142.01 500.15 142.37C500.45 142.73 500.65 143.32 500.98 143.08C501.31 142.84 501.73 142.49 502.11 140.95C502.49 139.41 502.87 136.69 503.25 133.84C503.63 131.00 503.99 127.20 504.39 123.88C504.79 120.56 505.22 116.65 505.67 113.92C506.12 111.19 506.62 108.99 507.09 107.52C507.56 106.05 508.04 105.46 508.52 105.10C509.00 104.74 509.47 104.86 509.94 105.38C510.41 105.90 510.89 106.81 511.36 108.23C511.83 109.65 512.24 111.55 512.78 113.92C513.32 116.29 514.04 119.84 514.63 122.45C515.22 125.06 515.77 127.67 516.34 129.57C516.91 131.47 517.46 132.70 518.05 133.84C518.64 134.98 519.24 135.81 519.90 136.40C520.56 136.99 521.32 136.99 522.03 137.39C522.74 137.79 523.58 138.23 524.17 138.82C524.76 139.41 525.05 140.31 525.59 140.95C526.13 141.59 526.85 142.19 527.44 142.66C528.03 143.13 528.51 143.48 529.15 143.79C529.79 144.10 530.62 144.22 531.28 144.51C531.94 144.79 532.54 145.10 533.13 145.50C533.72 145.90 534.27 146.49 534.84 146.92C535.41 147.35 535.95 147.82 536.54 148.06C537.13 148.30 537.91 148.59 538.39 148.35C538.87 148.11 539.03 148.11 539.39 146.64C539.75 145.17 540.09 142.37 540.53 139.53C540.97 136.69 541.56 132.93 542.05 129.62C542.54 126.31 543.00 122.50 543.47 119.66C543.94 116.81 544.37 114.33 544.89 112.55C545.41 110.77 546.08 109.42 546.60 108.99C547.12 108.56 547.48 108.91 548.02 109.98C548.56 111.05 549.25 113.06 549.87 115.39C550.49 117.72 551.08 120.61 551.72 123.93C552.36 127.25 553.08 131.75 553.72 135.31C554.36 138.87 554.96 142.90 555.57 145.27C556.19 147.64 556.77 148.66 557.41 149.54C558.05 150.42 558.65 150.39 559.41 150.53C560.17 150.67 561.12 150.53 561.97 150.39C562.82 150.25 563.82 149.70 564.53 149.68C565.24 149.66 565.60 149.92 566.24 150.25C566.88 150.58 567.54 151.12 568.37 151.67C569.20 152.21 570.26 152.98 571.21 153.52C572.16 154.06 573.23 154.49 574.06 154.94C574.89 155.39 575.55 155.82 576.19 156.22C576.83 156.62 577.43 157.41 577.90 157.36C578.38 157.31 578.66 157.24 579.04 155.94C579.42 154.64 579.75 152.50 580.18 149.54C580.61 146.57 581.13 141.94 581.60 138.15C582.07 134.36 582.54 130.09 583.02 126.77C583.50 123.45 583.98 120.14 584.45 118.24C584.93 116.34 585.40 115.67 585.87 115.39C586.34 115.11 586.77 115.34 587.29 116.53C587.81 117.72 588.43 120.08 589.00 122.50C589.57 124.92 590.12 127.96 590.71 131.04C591.30 134.12 591.94 138.16 592.56 141.00C593.18 143.84 593.82 146.57 594.41 148.11C595.00 149.65 595.54 149.85 596.11 150.25C596.68 150.65 597.37 150.53 597.82 150.53C598.27 150.53 598.39 150.41 598.79 150.25C599.19 150.09 599.62 149.73 600.21 149.54C600.80 149.35 601.64 149.11 602.35 149.11C603.06 149.11 603.77 149.28 604.48 149.54C605.19 149.80 605.91 150.20 606.62 150.67C607.33 151.14 607.92 151.81 608.75 152.38C609.58 152.95 610.65 153.55 611.60 154.09C612.55 154.63 613.61 155.22 614.44 155.65C615.27 156.08 616.05 156.72 616.57 156.65C617.09 156.58 617.21 156.65 617.57 155.23C617.93 153.81 618.28 151.19 618.71 148.11C619.14 145.03 619.66 140.29 620.13 136.73C620.60 133.17 621.07 129.50 621.55 126.77C622.02 124.04 622.50 121.79 622.98 120.37C623.46 118.95 623.93 118.24 624.40 118.24C624.87 118.24 625.30 118.95 625.82 120.37C626.34 121.79 626.94 124.28 627.53 126.77C628.12 129.26 628.76 132.47 629.38 135.31C630.00 138.16 630.64 141.47 631.23 143.84C631.82 146.21 632.37 148.31 632.94 149.54C633.51 150.77 634.05 151.08 634.64 151.24C635.23 151.41 635.83 151.05 636.49 150.53C637.15 150.01 637.92 148.87 638.63 148.11C639.34 147.35 640.05 146.57 640.76 145.98C641.47 145.39 642.18 144.92 642.89 144.56C643.60 144.20 644.32 144.03 645.03 143.84C645.74 143.65 646.45 143.47 647.16 143.42C647.87 143.37 648.59 143.44 649.30 143.56C650.01 143.68 650.79 143.84 651.43 144.13C652.07 144.41 652.62 145.03 653.14 145.27C653.66 145.51 654.18 146.03 654.56 145.55C654.94 145.08 655.10 144.60 655.41 142.42C655.72 140.24 656.01 136.25 656.41 132.46C656.81 128.67 657.36 123.69 657.83 119.66C658.31 115.63 658.78 111.36 659.26 108.28C659.74 105.20 660.21 102.63 660.68 101.16C661.15 99.69 661.63 99.58 662.10 99.46C662.57 99.34 662.98 99.57 663.52 100.45C664.06 101.33 664.78 102.94 665.37 104.72C665.96 106.50 666.44 108.39 667.08 111.12C667.72 113.85 668.50 117.52 669.21 121.08C669.92 124.64 670.71 129.38 671.35 132.46C671.99 135.54 672.47 137.92 673.06 139.58C673.65 141.24 674.25 141.99 674.91 142.42C675.57 142.85 676.33 142.33 677.04 142.14C677.75 141.95 678.51 141.33 679.17 141.28C679.83 141.23 680.43 141.38 681.02 141.85C681.61 142.32 682.16 143.32 682.73 144.13C683.30 144.94 683.85 146.03 684.44 146.69C685.03 147.35 685.63 147.83 686.29 148.11C686.95 148.40 687.71 148.45 688.42 148.40C689.13 148.35 690.01 148.35 690.56 147.83C691.10 147.31 691.34 147.12 691.69 145.27C692.05 143.42 692.29 140.52 692.69 136.73C693.09 132.94 693.63 127.00 694.11 122.50C694.59 118.00 695.11 113.26 695.54 109.70C695.97 106.14 696.30 103.06 696.68 101.16C697.06 99.26 697.42 98.91 697.82 98.32C698.22 97.73 698.70 97.49 699.10 97.61C699.50 97.73 699.77 97.73 700.24 99.03C700.71 100.33 701.35 102.94 701.94 105.43C702.53 107.92 703.17 111.12 703.79 113.97C704.41 116.81 705.16 120.14 705.64 122.50C706.12 124.86 706.26 126.69 706.67 128.15C707.08 129.61 707.62 130.39 708.09 131.27C708.57 132.15 709.00 132.94 709.52 133.41C710.04 133.88 710.63 134.10 711.22 134.12C711.81 134.14 712.41 133.79 713.07 133.55C713.74 133.31 714.57 132.89 715.21 132.70C715.85 132.51 716.63 132.46 716.92 132.41" fill="none" stroke="#2f80c0" stroke-width="1.10" stroke-linejoin="round" stroke-linecap="round"/>
<rect x="400.55" y="94.50" width="317.40" height="65.80" fill="none" stroke="#929292" stroke-width="1.35"/>
<line x1="400.55" y1="160.30" x2="400.55" y2="162.60" stroke="#333" stroke-width="0.8"/>
<text x="400.55" y="171.75" text-anchor="middle">0</text>
<line x1="453.45" y1="160.30" x2="453.45" y2="162.60" stroke="#333" stroke-width="0.8"/>
<text x="453.45" y="171.75" text-anchor="middle">50</text>
<line x1="506.35" y1="160.30" x2="506.35" y2="162.60" stroke="#333" stroke-width="0.8"/>
<text x="506.35" y="171.75" text-anchor="middle">100</text>
<line x1="559.25" y1="160.30" x2="559.25" y2="162.60" stroke="#333" stroke-width="0.8"/>
<text x="559.25" y="171.75" text-anchor="middle">150</text>
<line x1="612.15" y1="160.30" x2="612.15" y2="162.60" stroke="#333" stroke-width="0.8"/>
<text x="612.15" y="171.75" text-anchor="middle">200</text>
<line x1="665.05" y1="160.30" x2="665.05" y2="162.60" stroke="#333" stroke-width="0.8"/>
<text x="665.05" y="171.75" text-anchor="middle">250</text>
<line x1="717.95" y1="160.30" x2="717.95" y2="162.60" stroke="#333" stroke-width="0.8"/>
<text x="717.95" y="171.75" text-anchor="middle">300</text>
<line x1="398.25" y1="96.50" x2="400.55" y2="96.50" stroke="#333" stroke-width="0.8"/>
<text x="396.15" y="100.00" text-anchor="end">1</text>
<line x1="398.25" y1="127.35" x2="400.55" y2="127.35" stroke="#333" stroke-width="0.8"/>
<text x="396.15" y="130.85" text-anchor="end">0</text>
<line x1="398.25" y1="158.20" x2="400.55" y2="158.20" stroke="#333" stroke-width="0.8"/>
<text x="395.65" y="161.80" text-anchor="end">1</text>
<rect x="384.35" y="158.85" width="5.6" height="0.95" fill="#000"/>
<text x="27.1" y="124.90" style="font-size:11.3px">b)</text>
<path d="M51.70 222.55C51.84 222.38 52.22 221.79 52.55 221.55C52.88 221.31 53.31 221.03 53.69 221.12C54.07 221.22 54.55 221.65 54.83 222.12C55.11 222.59 55.21 223.90 55.40 223.97C55.59 224.04 55.73 222.95 55.97 222.55C56.21 222.15 56.49 221.79 56.82 221.55C57.15 221.31 57.58 220.72 57.96 221.12C58.34 221.52 58.67 223.02 59.10 223.97C59.53 224.92 60.12 225.99 60.52 226.82C60.92 227.65 61.24 228.00 61.52 228.95C61.80 229.90 61.95 231.32 62.23 232.51C62.51 233.69 62.94 235.66 63.22 236.06C63.50 236.46 63.62 235.51 63.93 234.92C64.24 234.33 64.64 233.15 65.07 232.51C65.50 231.87 66.03 231.67 66.50 231.08C66.97 230.49 67.49 229.42 67.92 228.95C68.35 228.48 68.70 228.12 69.06 228.24C69.42 228.36 69.72 229.02 70.05 229.66C70.38 230.30 70.69 231.54 71.05 232.08C71.41 232.62 71.76 232.93 72.19 232.93C72.62 232.93 73.14 232.51 73.61 232.08C74.08 231.65 74.60 231.37 75.03 230.37C75.46 229.37 75.81 227.76 76.17 226.10C76.53 224.44 76.84 222.31 77.17 220.41C77.50 218.51 77.80 216.74 78.16 214.72C78.52 212.70 78.92 209.98 79.30 208.32C79.68 206.66 80.08 205.47 80.44 204.76C80.80 204.05 81.10 204.00 81.43 204.05C81.76 204.10 82.12 204.93 82.43 205.05C82.74 205.17 82.97 204.93 83.28 204.76C83.59 204.59 84.00 203.93 84.28 204.05C84.56 204.17 84.75 204.40 84.99 205.47C85.23 206.54 85.46 208.43 85.70 210.45C85.94 212.47 86.10 215.44 86.41 217.57C86.72 219.70 87.12 221.36 87.55 223.26C87.98 225.16 88.50 227.29 88.97 228.95C89.44 230.61 90.00 232.32 90.40 233.22C90.80 234.12 91.06 234.60 91.39 234.36C91.72 234.12 92.03 233.17 92.39 231.79C92.75 230.41 93.15 227.33 93.53 226.10C93.91 224.87 94.30 224.99 94.66 224.40C95.02 223.81 95.33 222.98 95.66 222.55C95.99 222.12 96.30 221.72 96.66 221.84C97.02 221.96 97.41 222.55 97.79 223.26C98.17 223.97 98.57 225.86 98.93 226.10C99.29 226.34 99.60 225.63 99.93 224.68C100.26 223.73 100.61 221.59 100.92 220.41C101.23 219.22 101.47 218.09 101.78 217.57C102.09 217.05 102.48 217.09 102.77 217.28C103.05 217.47 103.18 218.66 103.49 218.71C103.80 218.76 104.27 218.04 104.62 217.57C104.98 217.09 105.29 216.10 105.62 215.86C105.95 215.62 106.31 215.58 106.62 216.15C106.93 216.72 107.16 218.61 107.47 219.27C107.78 219.93 108.14 220.06 108.47 220.13C108.80 220.20 109.10 219.72 109.46 219.70C109.81 219.68 110.22 220.06 110.60 219.99C110.98 219.92 111.38 219.08 111.74 219.27C112.09 219.46 112.40 220.27 112.73 221.12C113.06 221.97 113.42 224.00 113.73 224.40C114.04 224.80 114.27 224.20 114.58 223.54C114.89 222.88 115.25 221.88 115.58 220.41C115.91 218.94 116.21 217.09 116.57 214.72C116.92 212.35 117.33 208.80 117.71 206.19C118.09 203.58 118.54 200.85 118.85 199.07C119.16 197.29 119.28 195.88 119.56 195.52C119.84 195.17 120.20 196.23 120.56 196.94C120.92 197.65 121.27 198.48 121.70 199.78C122.13 201.08 122.60 202.74 123.12 204.76C123.64 206.78 124.31 209.51 124.83 211.88C125.35 214.25 125.82 216.86 126.25 218.99C126.68 221.12 127.06 223.61 127.39 224.68C127.72 225.75 127.96 225.63 128.24 225.39C128.52 225.15 128.81 223.14 129.09 223.26C129.38 223.38 129.71 225.15 129.95 226.10C130.19 227.05 130.31 229.19 130.52 228.95C130.73 228.71 130.99 225.51 131.23 224.68C131.47 223.85 131.63 224.21 131.94 223.97C132.25 223.73 132.73 223.14 133.08 223.26C133.44 223.38 133.74 224.16 134.07 224.68C134.40 225.20 134.71 225.96 135.07 226.39C135.43 226.82 135.78 227.17 136.21 227.24C136.64 227.31 137.16 226.82 137.63 226.82C138.10 226.82 138.58 227.36 139.05 227.24C139.53 227.12 140.04 227.00 140.48 226.10C140.92 225.20 141.30 223.50 141.69 221.84C142.08 220.18 142.40 217.93 142.83 216.15C143.26 214.37 143.82 212.36 144.25 211.17C144.68 209.98 145.06 209.03 145.39 209.03C145.72 209.03 145.91 209.98 146.24 211.17C146.57 212.36 147.00 214.49 147.38 216.15C147.76 217.81 148.16 219.46 148.52 221.12C148.88 222.78 149.24 224.91 149.52 226.10C149.81 227.29 149.97 228.05 150.23 228.24C150.49 228.43 150.80 228.07 151.08 227.24C151.36 226.41 151.60 224.28 151.93 223.26C152.26 222.24 152.64 221.88 153.07 221.12C153.50 220.36 154.07 219.78 154.50 218.71C154.93 217.64 155.28 216.81 155.63 214.72C155.98 212.63 156.30 208.80 156.63 206.19C156.96 203.58 157.32 200.80 157.63 199.07C157.94 197.34 158.17 195.99 158.48 195.80C158.79 195.61 159.14 197.15 159.47 197.93C159.80 198.71 160.07 199.65 160.47 200.50C160.87 201.35 161.46 202.11 161.89 203.06C162.32 204.01 162.65 204.96 163.03 206.19C163.41 207.42 163.74 208.91 164.17 210.45C164.60 211.99 165.12 214.29 165.59 215.43C166.06 216.57 166.55 216.81 167.02 217.28C167.50 217.75 168.01 217.88 168.44 218.28C168.87 218.68 169.18 219.70 169.58 219.70C169.98 219.70 170.41 219.06 170.86 218.28C171.31 217.50 171.81 215.96 172.28 215.01C172.75 214.06 173.30 213.35 173.70 212.59C174.10 211.83 174.39 211.16 174.70 210.45C175.01 209.74 175.27 208.67 175.55 208.32C175.83 207.97 176.12 207.25 176.40 208.32C176.69 209.39 176.95 212.23 177.26 214.72C177.57 217.21 177.90 220.77 178.25 223.26C178.60 225.75 179.03 228.47 179.39 229.66C179.75 230.84 180.03 230.54 180.39 230.37C180.75 230.20 181.15 229.01 181.53 228.66C181.91 228.31 182.31 228.07 182.66 228.24C183.01 228.41 183.33 229.19 183.66 229.66C183.99 230.13 184.31 231.39 184.66 231.08C185.01 230.77 185.36 228.59 185.79 227.81C186.22 227.03 186.75 226.96 187.22 226.39C187.69 225.82 188.17 225.04 188.64 224.40C189.11 223.76 189.59 223.17 190.06 222.55C190.53 221.93 191.06 221.17 191.49 220.70C191.92 220.22 192.27 219.70 192.62 219.70C192.97 219.70 193.29 220.94 193.62 220.70C193.95 220.46 194.31 219.51 194.62 218.28C194.93 217.05 195.16 215.20 195.47 213.30C195.78 211.40 196.14 208.51 196.47 206.90C196.80 205.29 197.11 203.87 197.46 203.63C197.81 203.39 198.17 204.57 198.60 205.47C199.03 206.37 199.55 207.84 200.02 209.03C200.49 210.22 201.01 211.40 201.44 212.59C201.87 213.78 202.22 214.61 202.58 216.15C202.94 217.69 203.22 220.18 203.58 221.84C203.94 223.50 204.37 224.44 204.72 226.10C205.07 227.76 205.40 229.89 205.71 231.79C206.02 233.69 206.33 236.19 206.57 237.49C206.81 238.80 206.93 239.50 207.14 239.62C207.35 239.74 207.57 239.15 207.85 238.20C208.13 237.25 208.56 234.41 208.84 233.93C209.12 233.46 209.31 234.57 209.55 235.35C209.79 236.13 209.96 238.10 210.27 238.62C210.58 239.14 210.86 238.55 211.40 238.48C211.94 238.41 212.87 238.32 213.54 238.20C214.21 238.07 214.83 237.71 215.43 237.73C216.03 237.75 216.50 237.97 217.14 238.30C217.78 238.63 218.44 239.18 219.27 239.72C220.10 240.26 221.16 241.02 222.11 241.57C223.06 242.12 224.13 242.54 224.96 242.99C225.79 243.44 226.45 243.87 227.09 244.27C227.73 244.67 228.33 245.46 228.80 245.41C229.28 245.36 229.56 245.29 229.94 243.99C230.32 242.69 230.65 240.56 231.08 237.59C231.51 234.62 232.03 230.00 232.50 226.20C232.97 222.40 233.44 218.14 233.92 214.82C234.39 211.50 234.88 208.19 235.35 206.29C235.82 204.39 236.30 203.72 236.77 203.44C237.24 203.16 237.67 203.39 238.19 204.58C238.71 205.76 239.33 208.13 239.90 210.55C240.47 212.97 241.02 216.01 241.61 219.09C242.20 222.17 242.84 226.21 243.46 229.05C244.08 231.90 244.72 234.62 245.31 236.16C245.90 237.70 246.44 237.90 247.01 238.30C247.58 238.70 248.27 238.58 248.72 238.58C249.17 238.58 249.29 238.47 249.69 238.30C250.09 238.14 250.52 237.78 251.11 237.59C251.70 237.40 252.54 237.16 253.25 237.16C253.96 237.16 254.67 237.33 255.38 237.59C256.09 237.85 256.81 238.25 257.52 238.72C258.23 239.19 258.82 239.86 259.65 240.43C260.48 241.00 261.55 241.59 262.50 242.14C263.45 242.68 264.51 243.27 265.34 243.70C266.17 244.13 266.95 244.77 267.47 244.70C267.99 244.63 268.11 244.70 268.47 243.28C268.83 241.86 269.18 239.24 269.61 236.16C270.04 233.08 270.56 228.34 271.03 224.78C271.50 221.22 271.97 217.55 272.45 214.82C272.93 212.09 273.40 209.84 273.88 208.42C274.36 207.00 274.83 206.29 275.30 206.29C275.77 206.29 276.20 207.00 276.72 208.42C277.24 209.84 277.84 212.33 278.43 214.82C279.02 217.31 279.66 220.51 280.28 223.36C280.90 226.20 281.54 229.52 282.13 231.89C282.72 234.26 283.27 236.36 283.84 237.59C284.41 238.82 284.95 239.12 285.54 239.29C286.13 239.45 286.73 239.10 287.39 238.58C288.05 238.06 288.82 236.92 289.53 236.16C290.24 235.40 290.95 234.62 291.66 234.03C292.37 233.44 293.08 232.97 293.79 232.61C294.50 232.25 295.22 232.08 295.93 231.89C296.64 231.70 297.35 231.52 298.06 231.47C298.77 231.42 299.49 231.49 300.20 231.61C300.91 231.73 301.69 231.90 302.33 232.18C302.97 232.47 303.52 233.08 304.04 233.32C304.56 233.56 305.08 234.07 305.46 233.60C305.84 233.12 306.00 232.65 306.31 230.47C306.62 228.29 306.91 224.30 307.31 220.51C307.71 216.72 308.25 211.74 308.73 207.71C309.21 203.68 309.69 199.41 310.16 196.33C310.63 193.25 311.11 190.68 311.58 189.21C312.05 187.74 312.53 187.63 313.00 187.51C313.47 187.39 313.88 187.62 314.42 188.50C314.97 189.38 315.68 190.99 316.27 192.77C316.86 194.55 317.34 196.44 317.98 199.17C318.62 201.90 319.40 205.57 320.11 209.13C320.82 212.69 321.61 217.43 322.25 220.51C322.89 223.59 323.37 225.97 323.96 227.63C324.55 229.29 325.15 230.04 325.81 230.47C326.47 230.90 327.23 230.38 327.94 230.19C328.65 230.00 329.41 229.38 330.07 229.33C330.73 229.28 331.33 229.42 331.92 229.90C332.51 230.37 333.06 231.37 333.63 232.18C334.20 232.99 334.75 234.08 335.34 234.74C335.93 235.40 336.53 235.88 337.19 236.16C337.85 236.44 338.61 236.50 339.32 236.45C340.03 236.40 340.91 236.40 341.46 235.88C342.00 235.36 342.23 235.17 342.59 233.32C342.94 231.47 343.19 228.57 343.59 224.78C343.99 220.99 344.53 215.06 345.01 210.55C345.49 206.05 346.01 201.31 346.44 197.75C346.87 194.19 347.20 191.11 347.58 189.21C347.96 187.31 348.32 186.96 348.72 186.37C349.12 185.78 349.60 185.54 350.00 185.66C350.40 185.78 350.67 185.78 351.14 187.08C351.61 188.38 352.25 190.99 352.84 193.48C353.43 195.97 354.07 199.17 354.69 202.02C355.31 204.86 355.95 208.06 356.54 210.55C357.13 213.04 357.68 215.30 358.25 216.96C358.82 218.62 359.37 219.73 359.96 220.51C360.55 221.29 361.15 221.46 361.81 221.65C362.47 221.84 363.23 221.60 363.94 221.65C364.65 221.70 365.41 221.77 366.07 221.94C366.73 222.11 367.61 222.53 367.92 222.65" fill="none" stroke="#2f80c0" stroke-width="1.10" stroke-linejoin="round" stroke-linecap="round"/>
<rect x="51.50" y="182.50" width="317.10" height="65.80" fill="none" stroke="#929292" stroke-width="1.35"/>
<line x1="51.50" y1="248.30" x2="51.50" y2="250.60" stroke="#333" stroke-width="0.8"/>
<text x="51.50" y="259.75" text-anchor="middle">0</text>
<line x1="104.35" y1="248.30" x2="104.35" y2="250.60" stroke="#333" stroke-width="0.8"/>
<text x="104.35" y="259.75" text-anchor="middle">50</text>
<line x1="157.20" y1="248.30" x2="157.20" y2="250.60" stroke="#333" stroke-width="0.8"/>
<text x="157.20" y="259.75" text-anchor="middle">100</text>
<line x1="210.05" y1="248.30" x2="210.05" y2="250.60" stroke="#333" stroke-width="0.8"/>
<text x="210.05" y="259.75" text-anchor="middle">150</text>
<line x1="262.90" y1="248.30" x2="262.90" y2="250.60" stroke="#333" stroke-width="0.8"/>
<text x="262.90" y="259.75" text-anchor="middle">200</text>
<line x1="315.75" y1="248.30" x2="315.75" y2="250.60" stroke="#333" stroke-width="0.8"/>
<text x="315.75" y="259.75" text-anchor="middle">250</text>
<line x1="368.60" y1="248.30" x2="368.60" y2="250.60" stroke="#333" stroke-width="0.8"/>
<text x="368.60" y="259.75" text-anchor="middle">300</text>
<line x1="49.20" y1="185.60" x2="51.50" y2="185.60" stroke="#333" stroke-width="0.8"/>
<text x="47.10" y="189.10" text-anchor="end">1</text>
<line x1="49.20" y1="215.55" x2="51.50" y2="215.55" stroke="#333" stroke-width="0.8"/>
<text x="47.10" y="219.05" text-anchor="end">0</text>
<line x1="49.20" y1="245.50" x2="51.50" y2="245.50" stroke="#333" stroke-width="0.8"/>
<text x="46.60" y="249.10" text-anchor="end">1</text>
<rect x="35.30" y="246.15" width="5.6" height="0.95" fill="#000"/>
<path d="M400.84 222.55C401.03 222.31 401.55 221.12 401.98 221.12C402.41 221.12 402.85 221.91 403.40 222.55C403.94 223.19 404.61 224.14 405.25 224.97C405.89 225.80 406.60 226.63 407.24 227.53C407.88 228.43 408.47 229.42 409.09 230.37C409.71 231.32 410.30 232.46 410.94 233.22C411.58 233.98 412.29 234.49 412.93 234.92C413.57 235.35 414.16 235.59 414.78 235.78C415.40 235.97 416.04 236.20 416.63 236.06C417.22 235.92 417.77 235.20 418.34 234.92C418.91 234.64 419.46 234.60 420.05 234.36C420.64 234.12 421.35 233.93 421.90 233.50C422.44 233.07 422.85 232.67 423.32 231.79C423.79 230.91 424.34 229.78 424.74 228.24C425.14 226.70 425.38 224.92 425.74 222.55C426.10 220.18 426.50 216.86 426.88 214.01C427.26 211.16 427.59 208.20 428.02 205.47C428.45 202.74 428.97 199.62 429.44 197.65C429.91 195.68 430.43 194.38 430.86 193.67C431.29 192.96 431.62 193.24 432.00 193.38C432.38 193.52 432.76 193.69 433.14 194.52C433.52 195.35 433.89 196.42 434.27 198.36C434.65 200.31 435.03 203.22 435.41 206.19C435.79 209.16 436.12 212.59 436.55 216.15C436.98 219.71 437.50 224.09 437.97 227.53C438.45 230.97 438.97 234.68 439.40 236.77C439.83 238.86 440.13 239.46 440.53 240.05C440.93 240.64 441.37 240.40 441.82 240.33C442.27 240.26 442.77 239.98 443.24 239.62C443.71 239.26 444.19 238.75 444.66 238.20C445.13 237.65 445.53 236.82 446.08 236.35C446.62 235.88 447.29 235.68 447.93 235.35C448.57 235.02 449.28 234.43 449.92 234.36C450.56 234.29 451.15 234.68 451.77 234.92C452.39 235.16 452.98 235.71 453.62 235.78C454.26 235.85 454.91 235.35 455.62 235.35C456.33 235.35 457.18 235.78 457.89 235.78C458.60 235.78 459.24 235.73 459.88 235.35C460.52 234.97 461.18 234.45 461.73 233.50C462.28 232.55 462.76 231.37 463.16 229.66C463.56 227.95 463.79 225.99 464.15 223.26C464.50 220.53 464.86 216.86 465.29 213.30C465.72 209.74 466.24 204.76 466.71 201.92C467.18 199.07 467.66 197.46 468.14 196.23C468.62 195.00 469.09 194.76 469.56 194.52C470.03 194.28 470.51 194.28 470.98 194.80C471.45 195.32 471.92 196.23 472.40 197.65C472.88 199.07 473.35 200.73 473.83 203.34C474.31 205.95 474.78 209.51 475.25 213.30C475.72 217.09 476.20 222.66 476.67 226.10C477.14 229.54 477.62 232.27 478.09 233.93C478.56 235.59 479.04 235.94 479.52 236.06C480.00 236.18 480.47 234.99 480.94 234.64C481.41 234.28 481.84 233.93 482.36 233.93C482.88 233.93 483.48 234.57 484.07 234.64C484.66 234.71 485.26 234.41 485.92 234.36C486.58 234.31 487.41 234.50 488.05 234.36C488.69 234.22 489.17 233.88 489.76 233.50C490.35 233.12 490.99 232.25 491.61 232.08C492.23 231.92 492.87 232.37 493.46 232.51C494.05 232.65 494.60 232.81 495.17 232.93C495.74 233.05 496.35 233.29 496.87 233.22C497.39 233.15 497.75 232.70 498.30 232.51C498.85 232.32 499.70 232.15 500.15 232.08C500.60 232.01 500.61 232.25 500.98 232.08C501.36 231.91 502.02 231.84 502.40 231.08C502.78 230.32 502.94 229.55 503.25 227.53C503.56 225.51 503.92 222.31 504.25 218.99C504.58 215.67 504.88 211.17 505.24 207.61C505.60 204.05 506.00 200.14 506.38 197.65C506.76 195.16 507.16 193.57 507.52 192.67C507.88 191.77 508.19 192.12 508.52 192.24C508.85 192.36 509.11 192.76 509.51 193.38C509.91 194.00 510.45 195.04 510.93 195.94C511.41 196.84 511.88 197.79 512.36 198.79C512.84 199.79 513.31 200.81 513.78 201.92C514.25 203.03 514.73 204.52 515.20 205.47C515.68 206.42 516.15 206.78 516.63 207.61C517.11 208.44 517.58 209.38 518.05 210.45C518.52 211.52 519.00 212.82 519.47 214.01C519.94 215.20 520.41 216.50 520.89 217.57C521.37 218.64 521.94 219.75 522.32 220.41C522.70 221.07 522.86 221.60 523.17 221.55C523.48 221.50 523.84 220.44 524.17 220.13C524.50 219.82 524.85 219.30 525.16 219.70C525.47 220.10 525.71 221.25 526.02 222.55C526.33 223.86 526.68 225.87 527.01 227.53C527.34 229.19 527.65 231.13 528.01 232.51C528.37 233.88 528.84 235.14 529.15 235.78C529.46 236.42 529.58 236.42 529.86 236.35C530.14 236.28 530.45 235.68 530.85 235.35C531.25 235.02 531.73 234.67 532.27 234.36C532.81 234.05 533.46 233.74 534.12 233.50C534.78 233.26 535.67 233.22 536.26 232.93C536.85 232.65 537.21 232.45 537.68 231.79C538.15 231.13 538.62 230.02 539.10 228.95C539.58 227.88 540.05 226.81 540.53 225.39C541.00 223.97 541.48 222.19 541.95 220.41C542.42 218.63 542.90 216.74 543.37 214.72C543.84 212.70 544.31 209.98 544.79 208.32C545.26 206.66 545.79 205.47 546.22 204.76C546.65 204.05 547.00 204.00 547.36 204.05C547.72 204.10 547.95 204.22 548.35 205.05C548.75 205.88 549.29 207.42 549.77 209.03C550.25 210.64 550.73 212.59 551.20 214.72C551.68 216.85 552.15 219.47 552.62 221.84C553.09 224.21 553.56 226.94 554.04 228.95C554.51 230.96 555.00 232.79 555.47 233.93C555.95 235.07 556.35 235.31 556.89 235.78C557.43 236.25 558.15 236.44 558.74 236.77C559.33 237.10 559.90 237.49 560.44 237.77C560.98 238.05 561.29 238.45 561.97 238.44C562.65 238.43 563.82 237.75 564.53 237.73C565.24 237.71 565.60 237.97 566.24 238.30C566.88 238.63 567.54 239.18 568.37 239.72C569.20 240.26 570.26 241.02 571.21 241.57C572.16 242.12 573.23 242.54 574.06 242.99C574.89 243.44 575.55 243.87 576.19 244.27C576.83 244.67 577.43 245.46 577.90 245.41C578.38 245.36 578.66 245.29 579.04 243.99C579.42 242.69 579.75 240.56 580.18 237.59C580.61 234.62 581.13 230.00 581.60 226.20C582.07 222.40 582.54 218.14 583.02 214.82C583.50 211.50 583.98 208.19 584.45 206.29C584.93 204.39 585.40 203.72 585.87 203.44C586.34 203.16 586.77 203.40 587.29 204.58C587.81 205.77 588.43 208.13 589.00 210.55C589.57 212.97 590.12 216.01 590.71 219.09C591.30 222.17 591.94 226.21 592.56 229.05C593.18 231.90 593.82 234.62 594.41 236.16C595.00 237.70 595.54 237.90 596.11 238.30C596.68 238.70 597.37 238.58 597.82 238.58C598.27 238.58 598.39 238.47 598.79 238.30C599.19 238.14 599.62 237.78 600.21 237.59C600.80 237.40 601.64 237.16 602.35 237.16C603.06 237.16 603.77 237.33 604.48 237.59C605.19 237.85 605.91 238.25 606.62 238.72C607.33 239.19 607.92 239.86 608.75 240.43C609.58 241.00 610.65 241.59 611.60 242.14C612.55 242.68 613.61 243.27 614.44 243.70C615.27 244.13 616.05 244.77 616.57 244.70C617.09 244.63 617.21 244.70 617.57 243.28C617.93 241.86 618.28 239.24 618.71 236.16C619.14 233.08 619.66 228.34 620.13 224.78C620.60 221.22 621.07 217.55 621.55 214.82C622.02 212.09 622.50 209.84 622.98 208.42C623.46 207.00 623.93 206.29 624.40 206.29C624.87 206.29 625.30 207.00 625.82 208.42C626.34 209.84 626.94 212.33 627.53 214.82C628.12 217.31 628.76 220.52 629.38 223.36C630.00 226.21 630.64 229.52 631.23 231.89C631.82 234.26 632.37 236.36 632.94 237.59C633.51 238.82 634.05 239.12 634.64 239.29C635.23 239.45 635.83 239.10 636.49 238.58C637.15 238.06 637.92 236.92 638.63 236.16C639.34 235.40 640.05 234.62 640.76 234.03C641.47 233.44 642.18 232.97 642.89 232.61C643.60 232.25 644.32 232.08 645.03 231.89C645.74 231.70 646.45 231.52 647.16 231.47C647.87 231.42 648.59 231.49 649.30 231.61C650.01 231.73 650.79 231.90 651.43 232.18C652.07 232.47 652.62 233.08 653.14 233.32C653.66 233.56 654.18 234.07 654.56 233.60C654.94 233.12 655.10 232.65 655.41 230.47C655.72 228.29 656.01 224.30 656.41 220.51C656.81 216.72 657.36 211.74 657.83 207.71C658.31 203.68 658.78 199.41 659.26 196.33C659.74 193.25 660.21 190.68 660.68 189.21C661.15 187.74 661.63 187.63 662.10 187.51C662.57 187.39 662.98 187.62 663.52 188.50C664.06 189.38 664.78 190.99 665.37 192.77C665.96 194.55 666.44 196.44 667.08 199.17C667.72 201.90 668.50 205.57 669.21 209.13C669.92 212.69 670.71 217.43 671.35 220.51C671.99 223.59 672.47 225.97 673.06 227.63C673.65 229.29 674.25 230.04 674.91 230.47C675.57 230.90 676.33 230.38 677.04 230.19C677.75 230.00 678.51 229.38 679.17 229.33C679.83 229.28 680.43 229.43 681.02 229.90C681.61 230.38 682.16 231.37 682.73 232.18C683.30 232.99 683.85 234.08 684.44 234.74C685.03 235.40 685.63 235.88 686.29 236.16C686.95 236.44 687.71 236.50 688.42 236.45C689.13 236.40 690.01 236.40 690.56 235.88C691.10 235.36 691.34 235.17 691.69 233.32C692.05 231.47 692.29 228.57 692.69 224.78C693.09 220.99 693.63 215.06 694.11 210.55C694.59 206.05 695.11 201.31 695.54 197.75C695.97 194.19 696.30 191.11 696.68 189.21C697.06 187.31 697.42 186.96 697.82 186.37C698.22 185.78 698.70 185.54 699.10 185.66C699.50 185.78 699.77 185.78 700.24 187.08C700.71 188.38 701.35 190.99 701.94 193.48C702.53 195.97 703.17 199.18 703.79 202.02C704.41 204.87 705.16 208.20 705.64 210.55C706.12 212.91 706.26 214.70 706.67 216.15C707.08 217.60 707.62 218.39 708.09 219.27C708.57 220.15 709.00 220.94 709.52 221.41C710.04 221.88 710.63 222.10 711.22 222.12C711.81 222.14 712.41 221.79 713.07 221.55C713.74 221.31 714.57 220.89 715.21 220.70C715.85 220.51 716.63 220.46 716.92 220.41" fill="none" stroke="#2f80c0" stroke-width="1.10" stroke-linejoin="round" stroke-linecap="round"/>
<rect x="400.55" y="182.50" width="317.40" height="65.80" fill="none" stroke="#929292" stroke-width="1.35"/>
<line x1="400.55" y1="248.30" x2="400.55" y2="250.60" stroke="#333" stroke-width="0.8"/>
<text x="400.55" y="259.75" text-anchor="middle">0</text>
<line x1="453.45" y1="248.30" x2="453.45" y2="250.60" stroke="#333" stroke-width="0.8"/>
<text x="453.45" y="259.75" text-anchor="middle">50</text>
<line x1="506.35" y1="248.30" x2="506.35" y2="250.60" stroke="#333" stroke-width="0.8"/>
<text x="506.35" y="259.75" text-anchor="middle">100</text>
<line x1="559.25" y1="248.30" x2="559.25" y2="250.60" stroke="#333" stroke-width="0.8"/>
<text x="559.25" y="259.75" text-anchor="middle">150</text>
<line x1="612.15" y1="248.30" x2="612.15" y2="250.60" stroke="#333" stroke-width="0.8"/>
<text x="612.15" y="259.75" text-anchor="middle">200</text>
<line x1="665.05" y1="248.30" x2="665.05" y2="250.60" stroke="#333" stroke-width="0.8"/>
<text x="665.05" y="259.75" text-anchor="middle">250</text>
<line x1="717.95" y1="248.30" x2="717.95" y2="250.60" stroke="#333" stroke-width="0.8"/>
<text x="717.95" y="259.75" text-anchor="middle">300</text>
<line x1="398.25" y1="184.50" x2="400.55" y2="184.50" stroke="#333" stroke-width="0.8"/>
<text x="396.15" y="188.00" text-anchor="end">1</text>
<line x1="398.25" y1="215.35" x2="400.55" y2="215.35" stroke="#333" stroke-width="0.8"/>
<text x="396.15" y="218.85" text-anchor="end">0</text>
<line x1="398.25" y1="246.20" x2="400.55" y2="246.20" stroke="#333" stroke-width="0.8"/>
<text x="395.65" y="249.80" text-anchor="end">1</text>
<rect x="384.35" y="246.85" width="5.6" height="0.95" fill="#000"/>
<text x="27.1" y="212.90" style="font-size:11.3px">c)</text>
<path d="M51.70 314.28C51.84 314.10 52.22 313.44 52.55 313.18C52.88 312.92 53.31 312.60 53.69 312.70C54.07 312.80 54.55 313.28 54.83 313.80C55.11 314.32 55.21 315.76 55.40 315.84C55.59 315.92 55.73 314.72 55.97 314.28C56.21 313.84 56.49 313.44 56.82 313.18C57.15 312.92 57.58 312.26 57.96 312.70C58.34 313.14 58.67 314.79 59.10 315.84C59.53 316.88 60.12 318.06 60.52 318.97C60.92 319.88 61.24 320.28 61.52 321.32C61.80 322.36 61.95 323.93 62.23 325.23C62.51 326.53 62.94 328.70 63.22 329.14C63.50 329.58 63.62 328.53 63.93 327.88C64.24 327.23 64.64 325.93 65.07 325.23C65.50 324.53 66.03 324.31 66.50 323.66C66.97 323.01 67.49 321.84 67.92 321.32C68.35 320.80 68.70 320.40 69.06 320.53C69.42 320.66 69.72 321.40 70.05 322.10C70.38 322.81 70.69 324.16 71.05 324.76C71.41 325.36 71.76 325.69 72.19 325.69C72.62 325.69 73.14 325.23 73.61 324.76C74.08 324.29 74.60 323.98 75.03 322.88C75.46 321.78 75.81 320.01 76.17 318.18C76.53 316.35 76.84 314.01 77.17 311.92C77.50 309.83 77.80 307.88 78.16 305.66C78.52 303.44 78.92 300.44 79.30 298.62C79.68 296.80 80.08 295.49 80.44 294.71C80.80 293.93 81.10 293.88 81.43 293.93C81.76 293.98 82.12 294.90 82.43 295.03C82.74 295.16 82.97 294.89 83.28 294.71C83.59 294.53 84.00 293.80 84.28 293.93C84.56 294.06 84.75 294.32 84.99 295.49C85.23 296.66 85.46 298.75 85.70 300.97C85.94 303.19 86.10 306.45 86.41 308.80C86.72 311.15 87.12 312.97 87.55 315.06C87.98 317.15 88.50 319.50 88.97 321.32C89.44 323.14 90.00 325.02 90.40 326.01C90.80 327.00 91.06 327.53 91.39 327.27C91.72 327.01 92.03 325.95 92.39 324.44C92.75 322.93 93.15 319.54 93.53 318.18C93.91 316.82 94.30 316.96 94.66 316.31C95.02 315.66 95.33 314.75 95.66 314.28C95.99 313.81 96.30 313.36 96.66 313.49C97.02 313.62 97.41 314.28 97.79 315.06C98.17 315.84 98.57 317.92 98.93 318.18C99.29 318.44 99.60 317.66 99.93 316.62C100.26 315.58 100.61 313.22 100.92 311.92C101.23 310.62 101.47 309.37 101.78 308.80C102.09 308.23 102.48 308.27 102.77 308.48C103.05 308.69 103.18 310.00 103.49 310.05C103.80 310.10 104.27 309.32 104.62 308.80C104.98 308.28 105.29 307.18 105.62 306.92C105.95 306.66 106.31 306.62 106.62 307.24C106.93 307.87 107.16 309.94 107.47 310.67C107.78 311.40 108.14 311.53 108.47 311.61C108.80 311.69 109.10 311.16 109.46 311.14C109.81 311.12 110.22 311.54 110.60 311.46C110.98 311.38 111.38 310.46 111.74 310.67C112.09 310.88 112.40 311.76 112.73 312.70C113.06 313.64 113.42 315.87 113.73 316.31C114.04 316.75 114.27 316.09 114.58 315.36C114.89 314.63 115.25 313.54 115.58 311.92C115.91 310.30 116.21 308.27 116.57 305.66C116.92 303.05 117.33 299.15 117.71 296.28C118.09 293.41 118.54 290.41 118.85 288.45C119.16 286.49 119.28 284.93 119.56 284.54C119.84 284.15 120.20 285.32 120.56 286.10C120.92 286.88 121.27 287.80 121.70 289.23C122.13 290.67 122.60 292.49 123.12 294.71C123.64 296.93 124.31 299.93 124.83 302.54C125.35 305.15 125.82 308.01 126.25 310.36C126.68 312.71 127.06 315.45 127.39 316.62C127.72 317.79 127.96 317.66 128.24 317.40C128.52 317.14 128.81 314.93 129.09 315.06C129.38 315.19 129.71 317.14 129.95 318.18C130.19 319.22 130.31 321.58 130.52 321.32C130.73 321.06 130.99 317.53 131.23 316.62C131.47 315.71 131.63 316.10 131.94 315.84C132.25 315.58 132.73 314.93 133.08 315.06C133.44 315.19 133.74 316.05 134.07 316.62C134.40 317.19 134.71 318.03 135.07 318.50C135.43 318.97 135.78 319.35 136.21 319.43C136.64 319.51 137.16 318.97 137.63 318.97C138.10 318.97 138.58 319.56 139.05 319.43C139.53 319.30 140.04 319.17 140.48 318.18C140.92 317.19 141.30 315.31 141.69 313.49C142.08 311.67 142.40 309.19 142.83 307.24C143.26 305.29 143.82 303.07 144.25 301.76C144.68 300.45 145.06 299.40 145.39 299.40C145.72 299.40 145.91 300.45 146.24 301.76C146.57 303.07 147.00 305.42 147.38 307.24C147.76 309.06 148.16 310.88 148.52 312.70C148.88 314.52 149.24 316.88 149.52 318.18C149.81 319.49 149.97 320.32 150.23 320.53C150.49 320.74 150.80 320.34 151.08 319.43C151.36 318.52 151.60 316.18 151.93 315.06C152.26 313.94 152.64 313.53 153.07 312.70C153.50 311.87 154.07 311.22 154.50 310.05C154.93 308.88 155.28 307.96 155.63 305.66C155.98 303.37 156.30 299.15 156.63 296.28C156.96 293.41 157.32 290.35 157.63 288.45C157.94 286.55 158.17 285.06 158.48 284.85C158.79 284.64 159.14 286.33 159.47 287.19C159.80 288.05 160.07 289.08 160.47 290.02C160.87 290.96 161.46 291.80 161.89 292.84C162.32 293.88 162.65 294.92 163.03 296.28C163.41 297.63 163.74 299.28 164.17 300.97C164.60 302.66 165.12 305.19 165.59 306.44C166.06 307.69 166.55 307.96 167.02 308.48C167.50 309.00 168.01 309.14 168.44 309.58C168.87 310.02 169.18 311.14 169.58 311.14C169.98 311.14 170.41 310.44 170.86 309.58C171.31 308.72 171.81 307.02 172.28 305.98C172.75 304.94 173.30 304.15 173.70 303.32C174.10 302.49 174.39 301.75 174.70 300.97C175.01 300.19 175.27 299.01 175.55 298.62C175.83 298.23 176.12 297.45 176.40 298.62C176.69 299.79 176.95 302.92 177.26 305.66C177.57 308.40 177.90 312.32 178.25 315.06C178.60 317.80 179.03 320.80 179.39 322.10C179.75 323.40 180.03 323.06 180.39 322.88C180.75 322.70 181.15 321.39 181.53 321.00C181.91 320.61 182.31 320.35 182.66 320.53C183.01 320.71 183.33 321.58 183.66 322.10C183.99 322.62 184.31 324.00 184.66 323.66C185.01 323.32 185.36 320.92 185.79 320.06C186.22 319.20 186.75 319.12 187.22 318.50C187.69 317.88 188.17 317.01 188.64 316.31C189.11 315.61 189.59 314.96 190.06 314.28C190.53 313.60 191.06 312.76 191.49 312.24C191.92 311.72 192.27 311.14 192.62 311.14C192.97 311.14 193.29 312.50 193.62 312.24C193.95 311.98 194.31 310.94 194.62 309.58C194.93 308.22 195.16 306.19 195.47 304.10C195.78 302.01 196.15 298.88 196.47 297.06C196.79 295.24 197.07 293.55 197.42 293.19C197.77 292.83 198.13 294.02 198.56 294.90C198.99 295.78 199.46 296.91 199.98 298.45C200.50 299.99 201.17 302.01 201.69 304.15C202.21 306.28 202.64 308.89 203.11 311.26C203.59 313.63 204.11 315.88 204.54 318.37C204.97 320.86 205.31 323.83 205.67 326.20C206.02 328.57 206.38 331.42 206.67 332.60C206.95 333.79 207.14 333.79 207.38 333.31C207.62 332.83 207.81 330.94 208.09 329.75C208.38 328.56 208.73 327.19 209.09 326.20C209.45 325.20 209.85 323.78 210.23 323.78C210.61 323.78 211.01 325.56 211.37 326.20C211.73 326.84 212.03 327.74 212.36 327.62C212.69 327.50 213.00 326.68 213.36 325.49C213.72 324.31 214.07 321.93 214.50 320.51C214.93 319.09 215.45 318.37 215.92 316.95C216.39 315.53 216.87 313.68 217.34 311.97C217.81 310.26 218.33 307.94 218.76 306.71C219.19 305.48 219.54 305.00 219.90 304.57C220.26 304.14 220.57 303.79 220.90 304.15C221.23 304.51 221.53 305.29 221.89 306.71C222.24 308.13 222.65 310.74 223.03 312.68C223.41 314.62 223.81 316.66 224.17 318.37C224.53 320.08 224.84 321.85 225.17 322.92C225.50 323.99 225.81 324.58 226.16 324.77C226.51 324.96 226.92 323.70 227.30 324.06C227.68 324.42 228.09 325.96 228.44 326.91C228.79 327.86 229.15 329.32 229.43 329.75C229.72 330.18 229.91 329.94 230.15 329.47C230.39 329.00 230.58 328.17 230.86 326.91C231.14 325.65 231.50 324.06 231.85 321.93C232.20 319.80 232.61 316.12 232.99 314.10C233.37 312.09 233.78 310.43 234.13 309.84C234.48 309.25 234.79 309.89 235.12 310.55C235.45 311.21 235.76 313.58 236.12 313.82C236.48 314.06 236.88 312.52 237.26 311.97C237.64 311.43 238.05 310.43 238.40 310.55C238.75 310.67 239.06 311.73 239.39 312.68C239.72 313.63 240.03 315.53 240.39 316.24C240.75 316.95 241.10 316.83 241.53 316.95C241.96 317.07 242.52 317.19 242.95 316.95C243.38 316.71 243.74 316.24 244.09 315.53C244.44 314.82 244.75 313.39 245.08 312.68C245.41 311.97 245.72 311.69 246.08 311.26C246.44 310.83 246.89 310.55 247.22 310.12C247.55 309.69 247.79 308.46 248.07 308.70C248.35 308.94 248.59 310.64 248.92 311.54C249.25 312.44 249.63 313.39 250.06 314.10C250.49 314.81 251.02 315.34 251.49 315.81C251.97 316.28 252.44 316.64 252.91 316.95C253.38 317.26 253.90 317.31 254.33 317.66C254.76 318.02 255.11 318.49 255.47 319.08C255.83 319.67 256.14 320.44 256.47 321.22C256.80 322.00 257.15 323.83 257.46 323.78C257.77 323.73 258.00 321.55 258.31 320.93C258.62 320.31 259.02 320.15 259.31 320.08C259.60 320.01 259.76 319.85 260.02 320.51C260.28 321.17 260.59 323.11 260.88 324.06C261.17 325.01 261.45 326.25 261.73 326.20C262.01 326.15 262.34 324.37 262.58 323.78C262.82 323.19 262.91 322.40 263.15 322.64C263.39 322.88 263.70 324.37 264.01 325.20C264.32 326.03 264.67 327.50 265.00 327.62C265.33 327.74 265.69 326.39 266.00 325.91C266.31 325.44 266.59 324.79 266.85 324.77C267.11 324.75 267.32 325.89 267.56 325.77C267.80 325.65 267.99 325.53 268.27 324.06C268.55 322.59 268.94 320.03 269.27 316.95C269.60 313.87 269.91 309.13 270.27 305.57C270.62 302.01 271.04 297.79 271.40 295.61C271.75 293.43 272.11 292.72 272.40 292.48C272.69 292.24 272.87 293.19 273.11 294.19C273.35 295.19 273.58 298.09 273.82 298.45C274.06 298.81 274.27 296.56 274.53 296.32C274.79 296.08 275.08 296.67 275.39 297.03C275.70 297.38 275.98 297.26 276.38 298.45C276.78 299.64 277.33 302.01 277.81 304.15C278.29 306.28 278.76 308.89 279.23 311.26C279.70 313.63 280.18 315.88 280.65 318.37C281.12 320.86 281.59 324.06 282.07 326.20C282.55 328.33 283.02 330.11 283.50 331.18C283.98 332.25 284.45 332.34 284.92 332.60C285.39 332.86 285.93 332.86 286.34 332.74C286.75 332.62 286.86 332.49 287.39 331.91C287.92 331.33 288.82 330.09 289.53 329.25C290.24 328.41 290.95 327.55 291.66 326.90C292.37 326.25 293.08 325.73 293.79 325.34C294.50 324.95 295.22 324.76 295.93 324.55C296.64 324.34 297.35 324.14 298.06 324.09C298.77 324.04 299.49 324.11 300.20 324.24C300.91 324.37 301.69 324.56 302.33 324.87C302.97 325.18 303.52 325.86 304.04 326.12C304.56 326.38 305.08 326.95 305.46 326.43C305.84 325.91 306.00 325.39 306.31 322.99C306.62 320.59 306.91 316.20 307.31 312.03C307.71 307.86 308.25 302.38 308.73 297.95C309.21 293.52 309.69 288.82 310.16 285.43C310.63 282.04 311.11 279.22 311.58 277.60C312.05 275.98 312.53 275.86 313.00 275.73C313.47 275.60 313.88 275.86 314.42 276.82C314.97 277.78 315.68 279.56 316.27 281.52C316.86 283.48 317.34 285.56 317.98 288.56C318.62 291.56 319.40 295.60 320.11 299.51C320.82 303.42 321.61 308.64 322.25 312.03C322.89 315.42 323.37 318.03 323.96 319.86C324.55 321.69 325.15 322.52 325.81 322.99C326.47 323.46 327.23 322.89 327.94 322.68C328.65 322.47 329.41 321.78 330.07 321.73C330.73 321.68 331.33 321.84 331.92 322.36C332.51 322.88 333.06 323.98 333.63 324.87C334.20 325.76 334.75 326.95 335.34 327.68C335.93 328.41 336.53 328.94 337.19 329.25C337.85 329.56 338.61 329.62 339.32 329.57C340.03 329.52 340.91 329.51 341.46 328.94C342.00 328.37 342.23 328.15 342.59 326.12C342.94 324.09 343.19 320.90 343.59 316.73C343.99 312.56 344.53 306.03 345.01 301.08C345.49 296.12 346.01 290.91 346.44 287.00C346.87 283.09 347.20 279.69 347.58 277.60C347.96 275.51 348.32 275.13 348.72 274.48C349.12 273.83 349.60 273.57 350.00 273.70C350.40 273.83 350.67 273.83 351.14 275.26C351.61 276.69 352.25 279.56 352.84 282.30C353.43 285.04 354.07 288.56 354.69 291.69C355.31 294.82 355.95 298.34 356.54 301.08C357.13 303.82 357.68 306.31 358.25 308.13C358.82 309.95 359.37 311.17 359.96 312.03C360.55 312.89 361.15 313.08 361.81 313.29C362.47 313.50 363.23 313.24 363.94 313.29C364.65 313.34 365.41 313.42 366.07 313.60C366.73 313.78 367.61 314.26 367.92 314.39" fill="none" stroke="#2f80c0" stroke-width="1.10" stroke-linejoin="round" stroke-linecap="round"/>
<rect x="51.50" y="270.60" width="317.10" height="66.15" fill="none" stroke="#929292" stroke-width="1.35"/>
<line x1="51.50" y1="336.75" x2="51.50" y2="339.05" stroke="#333" stroke-width="0.8"/>
<text x="51.50" y="348.20" text-anchor="middle">0</text>
<line x1="104.35" y1="336.75" x2="104.35" y2="339.05" stroke="#333" stroke-width="0.8"/>
<text x="104.35" y="348.20" text-anchor="middle">50</text>
<line x1="157.20" y1="336.75" x2="157.20" y2="339.05" stroke="#333" stroke-width="0.8"/>
<text x="157.20" y="348.20" text-anchor="middle">100</text>
<line x1="210.05" y1="336.75" x2="210.05" y2="339.05" stroke="#333" stroke-width="0.8"/>
<text x="210.05" y="348.20" text-anchor="middle">150</text>
<line x1="262.90" y1="336.75" x2="262.90" y2="339.05" stroke="#333" stroke-width="0.8"/>
<text x="262.90" y="348.20" text-anchor="middle">200</text>
<line x1="315.75" y1="336.75" x2="315.75" y2="339.05" stroke="#333" stroke-width="0.8"/>
<text x="315.75" y="348.20" text-anchor="middle">250</text>
<line x1="368.60" y1="336.75" x2="368.60" y2="339.05" stroke="#333" stroke-width="0.8"/>
<text x="368.60" y="348.20" text-anchor="middle">300</text>
<line x1="49.20" y1="273.80" x2="51.50" y2="273.80" stroke="#333" stroke-width="0.8"/>
<text x="47.10" y="277.30" text-anchor="end">1</text>
<line x1="49.20" y1="303.83" x2="51.50" y2="303.83" stroke="#333" stroke-width="0.8"/>
<text x="47.10" y="307.33" text-anchor="end">0</text>
<line x1="49.20" y1="333.85" x2="51.50" y2="333.85" stroke="#333" stroke-width="0.8"/>
<text x="46.60" y="337.45" text-anchor="end">1</text>
<rect x="35.30" y="334.50" width="5.6" height="0.95" fill="#000"/>
<path d="M400.84 314.82C401.03 314.65 401.55 313.75 401.98 313.82C402.41 313.89 402.85 314.72 403.40 315.24C403.94 315.76 404.61 316.31 405.25 316.95C405.89 317.59 406.60 318.18 407.24 319.08C407.88 319.98 408.47 321.29 409.09 322.36C409.71 323.43 410.30 324.66 410.94 325.49C411.58 326.32 412.29 326.91 412.93 327.34C413.57 327.77 414.11 327.84 414.78 328.05C415.44 328.26 416.21 328.38 416.92 328.62C417.63 328.86 418.39 329.19 419.05 329.47C419.71 329.75 420.35 330.27 420.90 330.32C421.44 330.37 421.84 330.56 422.32 329.75C422.80 328.94 423.32 327.39 423.75 325.49C424.18 323.59 424.49 321.22 424.89 318.37C425.29 315.52 425.72 311.97 426.17 308.41C426.62 304.85 427.12 300.23 427.59 297.03C428.06 293.83 428.54 291.22 429.01 289.21C429.48 287.19 430.00 285.72 430.43 284.94C430.86 284.16 431.17 284.34 431.57 284.51C431.97 284.68 432.40 284.91 432.85 285.93C433.30 286.95 433.79 288.54 434.27 290.63C434.75 292.72 435.22 295.25 435.70 298.45C436.18 301.65 436.65 306.04 437.12 309.84C437.59 313.63 438.11 317.90 438.54 321.22C438.97 324.54 439.30 327.97 439.68 329.75C440.06 331.53 440.39 331.61 440.82 331.89C441.25 332.17 441.72 331.77 442.24 331.46C442.76 331.15 443.38 330.56 443.95 330.04C444.52 329.52 445.07 328.90 445.66 328.33C446.25 327.76 446.89 327.14 447.51 326.62C448.13 326.10 448.77 325.58 449.36 325.20C449.95 324.82 450.49 324.42 451.06 324.35C451.63 324.28 452.25 324.58 452.77 324.77C453.29 324.96 453.71 325.61 454.19 325.49C454.67 325.37 455.19 324.35 455.62 324.06C456.05 323.77 456.37 323.66 456.75 323.78C457.13 323.90 457.41 324.72 457.89 324.77C458.37 324.82 459.03 324.42 459.60 324.06C460.17 323.70 460.79 323.47 461.31 322.64C461.83 321.81 462.30 320.74 462.73 319.08C463.16 317.42 463.49 315.17 463.87 312.68C464.25 310.19 464.58 307.23 465.01 304.15C465.44 301.07 465.96 296.92 466.43 294.19C466.90 291.46 467.38 289.25 467.85 287.78C468.32 286.31 468.79 285.73 469.27 285.37C469.75 285.01 470.22 285.13 470.70 285.65C471.18 286.17 471.65 287.08 472.12 288.50C472.59 289.92 473.07 291.58 473.54 294.19C474.01 296.80 474.49 300.59 474.96 304.15C475.43 307.71 475.91 311.97 476.39 315.53C476.87 319.09 477.34 323.36 477.81 325.49C478.28 327.62 478.75 327.97 479.23 328.33C479.71 328.69 480.14 327.90 480.66 327.62C481.18 327.34 481.72 326.83 482.36 326.62C483.00 326.41 483.79 326.46 484.50 326.34C485.21 326.22 485.92 326.05 486.63 325.91C487.34 325.77 488.05 325.63 488.76 325.49C489.47 325.35 490.19 325.18 490.90 325.06C491.61 324.94 492.32 324.82 493.03 324.77C493.74 324.72 494.46 324.89 495.17 324.77C495.88 324.65 496.64 324.34 497.30 324.06C497.96 323.78 498.63 323.26 499.15 323.07C499.67 322.88 499.96 323.18 500.41 322.92C500.86 322.66 501.43 322.26 501.83 321.50C502.23 320.74 502.49 320.31 502.82 318.37C503.15 316.43 503.46 313.16 503.82 309.84C504.18 306.52 504.58 302.01 504.96 298.45C505.34 294.89 505.72 291.11 506.10 288.50C506.48 285.89 506.86 283.99 507.24 282.80C507.62 281.61 507.99 281.43 508.37 281.38C508.75 281.33 509.08 281.85 509.51 282.52C509.94 283.19 510.45 284.25 510.93 285.37C511.41 286.49 511.81 287.74 512.36 289.21C512.91 290.68 513.59 292.41 514.21 294.19C514.83 295.97 515.51 298.22 516.06 299.88C516.60 301.54 517.01 302.49 517.48 304.15C517.95 305.81 518.43 308.06 518.90 309.84C519.37 311.62 519.85 313.40 520.32 314.82C520.80 316.24 521.27 317.42 521.75 318.37C522.23 319.32 522.77 320.23 523.17 320.51C523.57 320.79 523.84 320.32 524.17 320.08C524.50 319.84 524.85 318.89 525.16 319.08C525.47 319.27 525.64 320.44 526.02 321.22C526.40 322.00 526.92 322.95 527.44 323.78C527.96 324.61 528.58 325.68 529.15 326.20C529.72 326.72 530.26 326.84 530.85 326.91C531.44 326.98 532.08 326.86 532.70 326.62C533.32 326.38 533.96 326.04 534.55 325.49C535.14 324.94 535.74 324.30 536.26 323.35C536.78 322.40 537.21 321.09 537.68 319.79C538.15 318.49 538.62 317.07 539.10 315.53C539.58 313.99 540.05 312.09 540.53 310.55C541.00 309.01 541.48 307.70 541.95 306.28C542.42 304.86 542.90 303.67 543.37 302.01C543.84 300.35 544.31 298.10 544.79 296.32C545.26 294.54 545.75 292.45 546.22 291.34C546.70 290.22 547.21 289.87 547.64 289.63C548.07 289.39 548.40 289.28 548.78 289.92C549.16 290.56 549.52 291.69 549.92 293.47C550.32 295.25 550.75 297.62 551.20 300.59C551.65 303.55 552.15 307.70 552.62 311.26C553.09 314.82 553.56 318.97 554.04 321.93C554.51 324.89 555.00 327.50 555.47 329.04C555.95 330.58 556.35 330.78 556.89 331.18C557.43 331.58 558.10 331.34 558.74 331.46C559.38 331.58 560.09 331.99 560.73 331.89C561.37 331.79 562.04 331.48 562.58 330.89C563.12 330.30 563.53 329.47 564.00 328.33C564.47 327.19 564.94 325.25 565.42 324.06C565.89 322.88 566.45 321.74 566.85 321.22C567.25 320.70 567.44 320.81 567.84 320.93C568.24 321.05 568.79 321.53 569.27 321.93C569.75 322.33 570.15 322.76 570.69 323.35C571.24 323.94 571.92 324.78 572.54 325.49C573.16 326.20 573.80 326.91 574.39 327.62C574.98 328.33 575.57 329.04 576.09 329.75C576.61 330.46 577.09 331.30 577.52 331.89C577.95 332.48 578.30 333.43 578.66 333.31C579.01 333.19 579.32 332.72 579.65 331.18C579.98 329.64 580.29 326.91 580.65 324.06C581.01 321.21 581.41 317.42 581.79 314.10C582.17 310.78 582.49 306.76 582.92 304.15C583.35 301.54 583.92 299.68 584.35 298.45C584.78 297.22 585.08 296.75 585.48 296.75C585.88 296.75 586.31 297.45 586.76 298.45C587.21 299.44 587.72 301.06 588.19 302.72C588.67 304.38 589.14 306.63 589.61 308.41C590.08 310.19 590.55 312.08 591.03 313.39C591.50 314.69 591.91 315.69 592.46 316.24C593.01 316.79 593.67 316.73 594.31 316.66C594.95 316.59 595.73 315.81 596.30 315.81C596.87 315.81 597.44 316.47 597.72 316.66C598.00 316.85 597.70 316.43 597.98 316.95C598.26 317.47 598.86 318.72 599.40 319.79C599.94 320.86 600.66 322.45 601.25 323.35C601.84 324.25 602.32 324.77 602.96 325.20C603.60 325.63 604.38 325.74 605.09 325.91C605.80 326.08 606.52 325.99 607.23 326.20C607.94 326.41 608.70 326.83 609.36 327.19C610.02 327.55 610.62 327.90 611.21 328.33C611.80 328.76 612.40 329.27 612.92 329.75C613.44 330.23 613.91 330.89 614.34 331.18C614.77 331.47 615.12 331.82 615.48 331.46C615.84 331.10 616.14 330.75 616.47 329.04C616.80 327.33 617.11 324.42 617.47 321.22C617.83 318.02 618.18 313.40 618.61 309.84C619.04 306.28 619.56 302.25 620.03 299.88C620.50 297.51 620.98 296.32 621.45 295.61C621.93 294.90 622.40 295.25 622.88 295.61C623.36 295.97 623.78 296.44 624.30 297.74C624.82 299.04 625.42 300.94 626.01 303.43C626.60 305.92 627.24 309.48 627.86 312.68C628.48 315.88 629.12 319.79 629.71 322.64C630.30 325.49 630.84 328.02 631.41 329.75C631.98 331.48 632.53 332.32 633.12 333.03C633.71 333.74 634.35 334.02 634.97 334.02C635.59 334.02 636.18 333.55 636.82 333.03C637.46 332.51 638.17 331.62 638.81 330.89C639.45 330.15 640.00 329.21 640.66 328.62C641.32 328.03 642.08 327.67 642.79 327.34C643.50 327.01 644.22 326.76 644.93 326.62C645.64 326.48 646.35 326.48 647.06 326.48C647.77 326.48 648.54 326.48 649.20 326.62C649.87 326.76 650.46 327.01 651.05 327.34C651.64 327.67 652.28 328.50 652.75 328.62C653.22 328.74 653.53 329.05 653.89 328.05C654.25 327.05 654.53 325.44 654.89 322.64C655.25 319.84 655.63 315.53 656.03 311.26C656.43 306.99 656.86 301.30 657.31 297.03C657.76 292.76 658.26 288.73 658.73 285.65C659.20 282.57 659.68 280.20 660.15 278.54C660.62 276.88 661.10 276.12 661.57 275.69C662.05 275.26 662.52 275.50 663.00 275.98C663.48 276.46 663.88 276.93 664.42 278.54C664.96 280.15 665.65 283.04 666.27 285.65C666.89 288.26 667.53 291.11 668.12 294.19C668.71 297.27 669.26 300.83 669.83 304.15C670.40 307.47 671.01 311.25 671.53 314.10C672.05 316.95 672.41 319.56 672.96 321.22C673.51 322.88 674.15 323.63 674.81 324.06C675.47 324.49 676.23 323.85 676.94 323.78C677.65 323.71 678.41 323.40 679.07 323.64C679.73 323.88 680.33 324.42 680.92 325.20C681.51 325.98 682.06 327.38 682.63 328.33C683.20 329.28 683.75 330.34 684.34 330.89C684.93 331.44 685.53 331.43 686.19 331.60C686.85 331.77 687.68 331.84 688.32 331.89C688.96 331.94 689.55 332.25 690.03 331.89C690.50 331.53 690.79 331.29 691.17 329.75C691.55 328.21 691.93 325.96 692.31 322.64C692.69 319.32 693.06 314.11 693.44 309.84C693.82 305.57 694.27 301.30 694.58 297.03C694.89 292.76 694.93 287.55 695.29 284.23C695.64 280.91 696.28 278.72 696.71 277.11C697.14 275.50 697.47 275.02 697.85 274.55C698.23 274.08 698.59 273.96 698.99 274.27C699.39 274.58 699.82 275.10 700.27 276.40C700.72 277.70 701.15 279.60 701.69 282.09C702.24 284.58 702.95 288.38 703.54 291.34C704.13 294.30 704.68 297.27 705.25 299.88C705.82 302.49 706.37 304.86 706.96 306.99C707.55 309.12 708.15 311.42 708.81 312.68C709.47 313.94 710.23 314.25 710.94 314.53C711.65 314.81 712.41 314.51 713.07 314.39C713.73 314.27 714.33 313.87 714.92 313.82C715.51 313.77 716.35 314.05 716.63 314.10" fill="none" stroke="#2f80c0" stroke-width="1.10" stroke-linejoin="round" stroke-linecap="round"/>
<rect x="400.55" y="270.60" width="317.40" height="66.15" fill="none" stroke="#929292" stroke-width="1.35"/>
<line x1="400.55" y1="336.75" x2="400.55" y2="339.05" stroke="#333" stroke-width="0.8"/>
<text x="400.55" y="348.20" text-anchor="middle">0</text>
<line x1="453.45" y1="336.75" x2="453.45" y2="339.05" stroke="#333" stroke-width="0.8"/>
<text x="453.45" y="348.20" text-anchor="middle">50</text>
<line x1="506.35" y1="336.75" x2="506.35" y2="339.05" stroke="#333" stroke-width="0.8"/>
<text x="506.35" y="348.20" text-anchor="middle">100</text>
<line x1="559.25" y1="336.75" x2="559.25" y2="339.05" stroke="#333" stroke-width="0.8"/>
<text x="559.25" y="348.20" text-anchor="middle">150</text>
<line x1="612.15" y1="336.75" x2="612.15" y2="339.05" stroke="#333" stroke-width="0.8"/>
<text x="612.15" y="348.20" text-anchor="middle">200</text>
<line x1="665.05" y1="336.75" x2="665.05" y2="339.05" stroke="#333" stroke-width="0.8"/>
<text x="665.05" y="348.20" text-anchor="middle">250</text>
<line x1="717.95" y1="336.75" x2="717.95" y2="339.05" stroke="#333" stroke-width="0.8"/>
<text x="717.95" y="348.20" text-anchor="middle">300</text>
<line x1="398.25" y1="272.30" x2="400.55" y2="272.30" stroke="#333" stroke-width="0.8"/>
<text x="396.15" y="275.80" text-anchor="end">1</text>
<line x1="398.25" y1="304.35" x2="400.55" y2="304.35" stroke="#333" stroke-width="0.8"/>
<text x="396.15" y="307.85" text-anchor="end">0</text>
<line x1="398.25" y1="336.40" x2="400.55" y2="336.40" stroke="#333" stroke-width="0.8"/>
<text x="395.65" y="340.00" text-anchor="end">1</text>
<rect x="384.35" y="337.05" width="5.6" height="0.95" fill="#000"/>
<text x="27.1" y="301.00" style="font-size:11.3px">d)</text>
<path d="M51.70 402.33C51.84 402.15 52.22 401.49 52.55 401.23C52.88 400.97 53.31 400.65 53.69 400.75C54.07 400.85 54.55 401.33 54.83 401.85C55.11 402.37 55.21 403.81 55.40 403.89C55.59 403.97 55.73 402.77 55.97 402.33C56.21 401.89 56.49 401.49 56.82 401.23C57.15 400.97 57.58 400.31 57.96 400.75C58.34 401.19 58.67 402.84 59.10 403.89C59.53 404.94 60.12 406.11 60.52 407.02C60.92 407.93 61.24 408.33 61.52 409.37C61.80 410.41 61.95 411.98 62.23 413.28C62.51 414.58 62.94 416.75 63.22 417.19C63.50 417.63 63.62 416.58 63.93 415.93C64.24 415.28 64.64 413.98 65.07 413.28C65.50 412.58 66.03 412.36 66.50 411.71C66.97 411.06 67.49 409.89 67.92 409.37C68.35 408.85 68.70 408.45 69.06 408.58C69.42 408.71 69.72 409.44 70.05 410.15C70.38 410.85 70.69 412.21 71.05 412.81C71.41 413.41 71.76 413.74 72.19 413.74C72.62 413.74 73.14 413.28 73.61 412.81C74.08 412.34 74.60 412.03 75.03 410.93C75.46 409.83 75.81 408.06 76.17 406.23C76.53 404.40 76.84 402.06 77.17 399.97C77.50 397.88 77.80 395.93 78.16 393.71C78.52 391.49 78.92 388.50 79.30 386.67C79.68 384.85 80.08 383.54 80.44 382.76C80.80 381.98 81.10 381.93 81.43 381.98C81.76 382.03 82.12 382.95 82.43 383.08C82.74 383.21 82.97 382.94 83.28 382.76C83.59 382.58 84.00 381.85 84.28 381.98C84.56 382.11 84.75 382.37 84.99 383.54C85.23 384.71 85.46 386.80 85.70 389.02C85.94 391.24 86.10 394.50 86.41 396.85C86.72 399.20 87.12 401.02 87.55 403.11C87.98 405.20 88.50 407.55 88.97 409.37C89.44 411.19 90.00 413.07 90.40 414.06C90.80 415.05 91.06 415.58 91.39 415.32C91.72 415.06 92.03 414.00 92.39 412.49C92.75 410.98 93.15 407.59 93.53 406.23C93.91 404.88 94.30 405.01 94.66 404.36C95.02 403.71 95.33 402.80 95.66 402.33C95.99 401.86 96.30 401.41 96.66 401.54C97.02 401.67 97.41 402.33 97.79 403.11C98.17 403.89 98.57 405.97 98.93 406.23C99.29 406.49 99.60 405.71 99.93 404.67C100.26 403.63 100.61 401.27 100.92 399.97C101.23 398.67 101.47 397.42 101.78 396.85C102.09 396.28 102.48 396.32 102.77 396.53C103.05 396.74 103.18 398.05 103.49 398.10C103.80 398.15 104.27 397.37 104.62 396.85C104.98 396.33 105.29 395.23 105.62 394.97C105.95 394.71 106.31 394.67 106.62 395.29C106.93 395.92 107.16 397.99 107.47 398.72C107.78 399.45 108.14 399.58 108.47 399.66C108.80 399.74 109.10 399.22 109.46 399.19C109.81 399.16 110.22 399.59 110.60 399.51C110.98 399.43 111.38 398.51 111.74 398.72C112.09 398.93 112.40 399.81 112.73 400.75C113.06 401.69 113.42 403.92 113.73 404.36C114.04 404.80 114.27 404.14 114.58 403.41C114.89 402.68 115.25 401.59 115.58 399.97C115.91 398.35 116.21 396.32 116.57 393.71C116.92 391.10 117.33 387.20 117.71 384.33C118.09 381.46 118.54 378.46 118.85 376.50C119.16 374.54 119.28 372.98 119.56 372.59C119.84 372.20 120.20 373.37 120.56 374.15C120.92 374.93 121.27 375.84 121.70 377.28C122.13 378.71 122.60 380.54 123.12 382.76C123.64 384.98 124.31 387.98 124.83 390.59C125.35 393.20 125.82 396.06 126.25 398.41C126.68 400.76 127.06 403.50 127.39 404.67C127.72 405.84 127.96 405.71 128.24 405.45C128.52 405.19 128.81 402.98 129.09 403.11C129.38 403.24 129.71 405.19 129.95 406.23C130.19 407.27 130.31 409.63 130.52 409.37C130.73 409.11 130.99 405.58 131.23 404.67C131.47 403.76 131.63 404.15 131.94 403.89C132.25 403.63 132.73 402.98 133.08 403.11C133.44 403.24 133.74 404.10 134.07 404.67C134.40 405.24 134.71 406.08 135.07 406.55C135.43 407.02 135.78 407.40 136.21 407.48C136.64 407.56 137.16 407.02 137.63 407.02C138.10 407.02 138.58 407.61 139.05 407.48C139.53 407.35 140.04 407.22 140.48 406.23C140.92 405.24 141.30 403.36 141.69 401.54C142.08 399.72 142.40 397.25 142.83 395.29C143.26 393.34 143.82 391.12 144.25 389.81C144.68 388.50 145.06 387.45 145.39 387.45C145.72 387.45 145.91 388.50 146.24 389.81C146.57 391.12 147.00 393.47 147.38 395.29C147.76 397.11 148.16 398.93 148.52 400.75C148.88 402.57 149.24 404.93 149.52 406.23C149.81 407.54 149.97 408.37 150.23 408.58C150.49 408.79 150.80 408.39 151.08 407.48C151.36 406.57 151.60 404.23 151.93 403.11C152.26 401.99 152.64 401.58 153.07 400.75C153.50 399.92 154.07 399.27 154.50 398.10C154.93 396.93 155.28 396.00 155.63 393.71C155.98 391.41 156.30 387.20 156.63 384.33C156.96 381.46 157.32 378.40 157.63 376.50C157.94 374.60 158.17 373.11 158.48 372.90C158.79 372.69 159.14 374.38 159.47 375.24C159.80 376.10 160.07 377.13 160.47 378.07C160.87 379.01 161.46 379.85 161.89 380.89C162.32 381.93 162.65 382.97 163.03 384.33C163.41 385.69 163.74 387.33 164.17 389.02C164.60 390.71 165.12 393.24 165.59 394.49C166.06 395.74 166.55 396.01 167.02 396.53C167.50 397.05 168.01 397.19 168.44 397.63C168.87 398.07 169.18 399.19 169.58 399.19C169.98 399.19 170.41 398.49 170.86 397.63C171.31 396.77 171.81 395.07 172.28 394.03C172.75 392.99 173.30 392.20 173.70 391.37C174.10 390.54 174.39 389.80 174.70 389.02C175.01 388.24 175.27 387.06 175.55 386.67C175.83 386.28 176.12 385.50 176.40 386.67C176.69 387.84 176.95 390.97 177.26 393.71C177.57 396.45 177.90 400.37 178.25 403.11C178.60 405.85 179.03 408.85 179.39 410.15C179.75 411.45 180.03 411.11 180.39 410.93C180.75 410.75 181.15 409.44 181.53 409.05C181.91 408.66 182.31 408.40 182.66 408.58C183.01 408.76 183.33 409.63 183.66 410.15C183.99 410.67 184.31 412.05 184.66 411.71C185.01 411.37 185.36 408.97 185.79 408.11C186.22 407.25 186.75 407.18 187.22 406.55C187.69 405.93 188.17 405.06 188.64 404.36C189.11 403.66 189.59 403.01 190.06 402.33C190.53 401.65 191.06 400.81 191.49 400.29C191.92 399.77 192.27 399.19 192.62 399.19C192.97 399.19 193.29 400.55 193.62 400.29C193.95 400.03 194.31 398.99 194.62 397.63C194.93 396.27 195.16 394.24 195.47 392.15C195.78 390.06 196.15 386.93 196.47 385.11C196.79 383.29 197.07 381.60 197.42 381.24C197.77 380.88 198.13 382.07 198.56 382.95C198.99 383.83 199.46 384.96 199.98 386.50C200.50 388.04 201.17 390.06 201.69 392.20C202.21 394.33 202.64 396.94 203.11 399.31C203.59 401.68 204.11 403.93 204.54 406.42C204.97 408.91 205.31 411.88 205.67 414.25C206.02 416.62 206.38 419.46 206.67 420.65C206.95 421.83 207.14 421.84 207.38 421.36C207.62 420.88 207.81 418.99 208.09 417.80C208.38 416.62 208.73 415.25 209.09 414.25C209.45 413.25 209.85 411.83 210.23 411.83C210.61 411.83 211.01 413.61 211.37 414.25C211.73 414.89 212.03 415.79 212.36 415.67C212.69 415.55 213.00 414.73 213.36 413.54C213.72 412.36 214.07 409.98 214.50 408.56C214.93 407.14 215.45 406.42 215.92 405.00C216.39 403.58 216.87 401.73 217.34 400.02C217.81 398.31 218.33 395.99 218.76 394.76C219.19 393.53 219.54 393.05 219.90 392.62C220.26 392.19 220.57 391.84 220.90 392.20C221.23 392.56 221.53 393.34 221.89 394.76C222.24 396.18 222.65 398.79 223.03 400.73C223.41 402.67 223.81 404.71 224.17 406.42C224.53 408.13 224.84 409.90 225.17 410.97C225.50 412.04 225.81 412.63 226.16 412.82C226.51 413.01 226.92 411.75 227.30 412.11C227.68 412.47 228.09 414.01 228.44 414.96C228.79 415.91 229.15 417.37 229.43 417.80C229.72 418.23 229.91 417.99 230.15 417.52C230.39 417.05 230.58 416.22 230.86 414.96C231.14 413.70 231.50 412.12 231.85 409.98C232.20 407.85 232.61 404.16 232.99 402.15C233.37 400.13 233.78 398.48 234.13 397.89C234.48 397.30 234.79 397.94 235.12 398.60C235.45 399.26 235.76 401.63 236.12 401.87C236.48 402.11 236.88 400.56 237.26 400.02C237.64 399.47 238.05 398.48 238.40 398.60C238.75 398.72 239.06 399.78 239.39 400.73C239.72 401.68 240.03 403.58 240.39 404.29C240.75 405.00 241.10 404.88 241.53 405.00C241.96 405.12 242.52 405.24 242.95 405.00C243.38 404.76 243.74 404.29 244.09 403.58C244.44 402.87 244.75 401.44 245.08 400.73C245.41 400.02 245.72 399.74 246.08 399.31C246.44 398.88 246.89 398.60 247.22 398.17C247.55 397.74 247.79 396.51 248.07 396.75C248.35 396.99 248.59 398.69 248.92 399.59C249.25 400.49 249.63 401.44 250.06 402.15C250.49 402.86 251.02 403.38 251.49 403.86C251.97 404.34 252.44 404.69 252.91 405.00C253.38 405.31 253.90 405.35 254.33 405.71C254.76 406.06 255.11 406.54 255.47 407.13C255.83 407.72 256.14 408.49 256.47 409.27C256.80 410.05 257.15 411.88 257.46 411.83C257.77 411.78 258.00 409.60 258.31 408.98C258.62 408.36 259.02 408.20 259.31 408.13C259.60 408.06 259.76 407.90 260.02 408.56C260.28 409.22 260.59 411.16 260.88 412.11C261.17 413.06 261.45 414.30 261.73 414.25C262.01 414.20 262.34 412.42 262.58 411.83C262.82 411.24 262.91 410.45 263.15 410.69C263.39 410.93 263.70 412.42 264.01 413.25C264.32 414.08 264.67 415.55 265.00 415.67C265.33 415.79 265.69 414.44 266.00 413.96C266.31 413.48 266.59 412.84 266.85 412.82C267.11 412.80 267.32 413.94 267.56 413.82C267.80 413.70 267.99 413.58 268.27 412.11C268.55 410.64 269.05 405.96 269.27 405.00C269.49 404.04 269.44 407.80 269.61 406.37C269.79 404.94 270.03 399.73 270.32 396.41C270.61 393.09 270.96 388.94 271.32 386.45C271.68 383.96 272.07 382.42 272.45 381.47C272.83 380.52 273.23 381.23 273.59 380.76C273.95 380.29 274.26 378.75 274.59 378.63C274.92 378.51 275.22 378.87 275.58 380.05C275.94 381.24 276.29 383.49 276.72 385.74C277.15 387.99 277.67 391.08 278.15 393.57C278.62 396.06 279.10 398.67 279.57 400.68C280.04 402.69 280.52 404.48 280.99 405.66C281.46 406.85 281.94 407.32 282.41 407.79C282.88 408.26 283.37 408.15 283.84 408.51C284.31 408.87 284.79 409.34 285.26 409.93C285.73 410.52 286.21 411.35 286.68 412.06C287.15 412.77 287.62 413.61 288.10 414.20C288.58 414.79 289.05 415.22 289.53 415.62C290.00 416.02 290.48 416.74 290.95 416.62C291.42 416.50 291.90 415.72 292.37 414.91C292.84 414.10 293.31 412.85 293.79 411.78C294.27 410.71 294.75 409.77 295.22 408.51C295.70 407.25 296.21 405.07 296.64 404.24C297.07 403.41 297.42 403.70 297.78 403.53C298.13 403.36 298.44 403.36 298.77 403.24C299.10 403.12 299.46 402.53 299.77 402.82C300.08 403.11 300.31 403.88 300.62 404.95C300.93 406.02 301.29 407.80 301.62 409.22C301.95 410.64 302.26 412.31 302.62 413.49C302.98 414.68 303.37 415.81 303.75 416.33C304.13 416.85 304.53 417.09 304.89 416.62C305.25 416.15 305.56 415.44 305.89 413.49C306.22 411.55 306.52 407.80 306.88 404.95C307.24 402.10 307.64 398.54 308.02 396.41C308.40 394.28 308.78 392.98 309.16 392.15C309.54 391.32 309.97 391.79 310.30 391.43C310.63 391.07 310.82 390.96 311.15 390.01C311.48 389.06 311.98 386.33 312.29 385.74C312.60 385.15 312.76 385.38 313.00 386.45C313.24 387.52 313.42 390.68 313.71 392.15C314.00 393.62 314.35 394.75 314.71 395.27C315.07 395.79 315.50 395.27 315.85 395.27C316.21 395.27 316.53 395.55 316.84 395.27C317.15 394.99 317.39 394.21 317.70 393.57C318.01 392.93 318.41 391.55 318.69 391.43C318.97 391.31 319.12 392.15 319.40 392.86C319.68 393.57 320.09 395.11 320.40 395.70C320.71 396.29 320.94 396.88 321.25 396.41C321.56 395.94 321.94 393.69 322.25 392.86C322.56 392.03 322.82 391.31 323.10 391.43C323.38 391.55 323.63 392.86 323.96 393.57C324.29 394.28 324.71 394.87 325.09 395.70C325.47 396.53 325.87 397.84 326.23 398.55C326.59 399.26 326.90 399.85 327.23 399.97C327.56 400.09 327.91 399.14 328.22 399.26C328.53 399.38 328.77 400.49 329.08 400.68C329.39 400.87 329.74 400.28 330.07 400.40C330.40 400.52 330.71 401.11 331.07 401.39C331.43 401.67 331.83 401.70 332.21 402.10C332.59 402.50 333.00 403.22 333.35 403.81C333.71 404.40 334.01 405.23 334.34 405.66C334.67 406.09 335.03 405.78 335.34 406.37C335.65 406.96 335.95 407.80 336.19 409.22C336.43 410.64 336.52 413.49 336.76 414.91C337.00 416.33 337.23 417.23 337.61 417.75C337.99 418.27 338.57 418.04 339.04 418.04C339.51 418.04 339.99 417.99 340.46 417.75C340.93 417.51 341.52 417.22 341.88 416.62C342.24 416.02 342.30 416.14 342.59 414.17C342.88 412.20 343.19 408.95 343.59 404.78C343.99 400.61 344.53 394.08 345.01 389.13C345.49 384.18 346.01 378.96 346.44 375.05C346.87 371.14 347.20 367.74 347.58 365.65C347.96 363.56 348.32 363.18 348.72 362.53C349.12 361.88 349.60 361.62 350.00 361.75C350.40 361.88 350.67 361.88 351.14 363.31C351.61 364.74 352.25 367.61 352.84 370.35C353.43 373.09 354.07 376.61 354.69 379.74C355.31 382.87 355.95 386.39 356.54 389.13C357.13 391.87 357.68 394.36 358.25 396.18C358.82 398.00 359.37 399.22 359.96 400.08C360.55 400.94 361.15 401.13 361.81 401.34C362.47 401.55 363.23 401.29 363.94 401.34C364.65 401.39 365.41 401.47 366.07 401.65C366.73 401.83 367.61 402.31 367.92 402.44" fill="none" stroke="#2f80c0" stroke-width="1.10" stroke-linejoin="round" stroke-linecap="round"/>
<rect x="51.50" y="358.80" width="317.10" height="66.55" fill="none" stroke="#929292" stroke-width="1.35"/>
<line x1="51.50" y1="425.35" x2="51.50" y2="427.65" stroke="#333" stroke-width="0.8"/>
<text x="51.50" y="436.80" text-anchor="middle">0</text>
<line x1="104.35" y1="425.35" x2="104.35" y2="427.65" stroke="#333" stroke-width="0.8"/>
<text x="104.35" y="436.80" text-anchor="middle">50</text>
<line x1="157.20" y1="425.35" x2="157.20" y2="427.65" stroke="#333" stroke-width="0.8"/>
<text x="157.20" y="436.80" text-anchor="middle">100</text>
<line x1="210.05" y1="425.35" x2="210.05" y2="427.65" stroke="#333" stroke-width="0.8"/>
<text x="210.05" y="436.80" text-anchor="middle">150</text>
<line x1="262.90" y1="425.35" x2="262.90" y2="427.65" stroke="#333" stroke-width="0.8"/>
<text x="262.90" y="436.80" text-anchor="middle">200</text>
<line x1="315.75" y1="425.35" x2="315.75" y2="427.65" stroke="#333" stroke-width="0.8"/>
<text x="315.75" y="436.80" text-anchor="middle">250</text>
<line x1="368.60" y1="425.35" x2="368.60" y2="427.65" stroke="#333" stroke-width="0.8"/>
<text x="368.60" y="436.80" text-anchor="middle">300</text>
<line x1="49.20" y1="361.90" x2="51.50" y2="361.90" stroke="#333" stroke-width="0.8"/>
<text x="47.10" y="365.40" text-anchor="end">1</text>
<line x1="49.20" y1="392.17" x2="51.50" y2="392.17" stroke="#333" stroke-width="0.8"/>
<text x="47.10" y="395.67" text-anchor="end">0</text>
<line x1="49.20" y1="422.45" x2="51.50" y2="422.45" stroke="#333" stroke-width="0.8"/>
<text x="46.60" y="426.05" text-anchor="end">1</text>
<rect x="35.30" y="423.10" width="5.6" height="0.95" fill="#000"/>
<path d="M400.84 403.53C401.03 403.41 401.55 402.70 401.98 402.82C402.41 402.94 402.85 403.69 403.40 404.24C403.94 404.79 404.61 405.45 405.25 406.09C405.89 406.73 406.60 407.20 407.24 408.08C407.88 408.96 408.47 410.33 409.09 411.35C409.71 412.37 410.30 413.49 410.94 414.20C411.58 414.91 412.29 415.22 412.93 415.62C413.57 416.02 414.11 416.38 414.78 416.62C415.44 416.86 416.21 416.85 416.92 417.04C417.63 417.23 418.39 417.44 419.05 417.75C419.71 418.06 420.35 418.77 420.90 418.89C421.44 419.01 421.84 419.25 422.32 418.47C422.80 417.69 423.32 416.10 423.75 414.20C424.18 412.30 424.49 409.93 424.89 407.08C425.29 404.23 425.72 400.68 426.17 397.12C426.62 393.56 427.12 388.94 427.59 385.74C428.06 382.54 428.54 379.94 429.01 377.92C429.48 375.91 430.00 374.46 430.43 373.65C430.86 372.84 431.17 372.96 431.57 373.08C431.97 373.20 432.40 373.36 432.85 374.36C433.30 375.36 433.79 376.93 434.27 379.06C434.75 381.19 435.22 383.92 435.70 387.17C436.18 390.42 436.65 394.76 437.12 398.55C437.59 402.34 438.11 406.61 438.54 409.93C438.97 413.25 439.30 416.65 439.68 418.47C440.06 420.30 440.39 420.57 440.82 420.88C441.25 421.19 441.72 420.64 442.24 420.31C442.76 419.98 443.38 419.44 443.95 418.89C444.52 418.34 445.07 417.63 445.66 417.04C446.25 416.45 446.89 415.86 447.51 415.34C448.13 414.82 448.77 414.27 449.36 413.91C449.95 413.55 450.49 413.27 451.06 413.20C451.63 413.13 452.25 413.32 452.77 413.49C453.29 413.66 453.71 414.32 454.19 414.20C454.67 414.08 455.19 413.08 455.62 412.77C456.05 412.46 456.37 412.23 456.75 412.35C457.13 412.47 457.41 413.42 457.89 413.49C458.37 413.56 459.03 413.13 459.60 412.77C460.17 412.41 460.79 412.18 461.31 411.35C461.83 410.52 462.30 409.57 462.73 407.79C463.16 406.01 463.49 403.29 463.87 400.68C464.25 398.07 464.58 395.23 465.01 392.15C465.44 389.07 465.96 384.92 466.43 382.19C466.90 379.46 467.38 377.20 467.85 375.78C468.32 374.36 468.79 373.96 469.27 373.65C469.75 373.34 470.22 373.41 470.70 373.93C471.18 374.45 471.65 375.28 472.12 376.78C472.59 378.27 473.07 380.22 473.54 382.90C474.01 385.58 474.49 389.30 474.96 392.86C475.43 396.42 475.91 400.68 476.39 404.24C476.87 407.80 477.34 412.07 477.81 414.20C478.28 416.33 478.75 416.73 479.23 417.04C479.71 417.35 480.14 416.36 480.66 416.05C481.18 415.74 481.72 415.38 482.36 415.19C483.00 415.00 483.79 415.00 484.50 414.91C485.21 414.82 485.92 414.74 486.63 414.62C487.34 414.50 488.05 414.34 488.76 414.20C489.47 414.06 490.19 413.89 490.90 413.77C491.61 413.65 492.32 413.54 493.03 413.49C493.74 413.44 494.46 413.61 495.17 413.49C495.88 413.37 496.64 413.06 497.30 412.77C497.96 412.48 498.63 411.94 499.15 411.78C499.67 411.61 499.96 411.97 500.41 411.78C500.86 411.59 501.43 411.42 501.83 410.64C502.23 409.86 502.49 409.09 502.82 407.08C503.15 405.06 503.46 401.87 503.82 398.55C504.18 395.23 504.58 390.73 504.96 387.17C505.34 383.61 505.72 379.89 506.10 377.21C506.48 374.53 506.86 372.39 507.24 371.09C507.62 369.78 507.99 369.48 508.37 369.38C508.75 369.28 509.08 369.85 509.51 370.52C509.94 371.19 510.45 372.25 510.93 373.37C511.41 374.49 511.81 375.69 512.36 377.21C512.91 378.73 513.59 380.69 514.21 382.47C514.83 384.25 515.51 386.27 516.06 387.88C516.60 389.49 517.01 390.37 517.48 392.15C517.95 393.93 518.43 396.65 518.90 398.55C519.37 400.45 519.85 402.11 520.32 403.53C520.80 404.95 521.27 406.08 521.75 407.08C522.23 408.07 522.77 409.14 523.17 409.50C523.57 409.86 523.84 409.50 524.17 409.22C524.50 408.94 524.85 407.67 525.16 407.79C525.47 407.91 525.64 409.10 526.02 409.93C526.40 410.76 526.92 411.94 527.44 412.77C527.96 413.60 528.58 414.44 529.15 414.91C529.72 415.39 530.26 415.57 530.85 415.62C531.44 415.67 532.08 415.43 532.70 415.19C533.32 414.95 533.96 414.72 534.55 414.20C535.14 413.68 535.74 413.01 536.26 412.06C536.78 411.11 537.21 409.88 537.68 408.51C538.15 407.13 538.62 405.40 539.10 403.81C539.58 402.22 540.05 400.49 540.53 398.97C541.00 397.45 541.48 396.13 541.95 394.71C542.42 393.29 542.90 392.10 543.37 390.44C543.84 388.78 544.31 386.48 544.79 384.75C545.26 383.02 545.75 381.19 546.22 380.05C546.70 378.91 547.21 378.21 547.64 377.92C548.07 377.63 548.40 377.68 548.78 378.34C549.16 379.00 549.52 380.12 549.92 381.90C550.32 383.68 550.75 386.01 551.20 389.02C551.65 392.03 552.15 396.37 552.62 399.97C553.09 403.57 553.56 407.68 554.04 410.64C554.51 413.60 555.00 416.26 555.47 417.75C555.95 419.24 556.35 419.24 556.89 419.60C557.43 419.96 558.10 419.77 558.74 419.89C559.38 420.01 560.09 420.43 560.73 420.31C561.37 420.19 562.04 419.84 562.58 419.18C563.12 418.52 563.53 417.47 564.00 416.33C564.47 415.19 564.94 413.42 565.42 412.35C565.89 411.28 566.45 410.41 566.85 409.93C567.25 409.45 567.44 409.38 567.84 409.50C568.24 409.62 568.79 410.21 569.27 410.64C569.75 411.07 570.15 411.47 570.69 412.06C571.24 412.65 571.92 413.49 572.54 414.20C573.16 414.91 573.80 415.62 574.39 416.33C574.98 417.04 575.57 417.76 576.09 418.47C576.61 419.18 577.09 420.01 577.52 420.60C577.95 421.19 578.30 422.14 578.66 422.02C579.01 421.90 579.32 421.43 579.65 419.89C579.98 418.35 580.29 415.62 580.65 412.77C581.01 409.92 581.41 406.14 581.79 402.82C582.17 399.50 582.49 395.47 582.92 392.86C583.35 390.25 583.92 388.43 584.35 387.17C584.78 385.91 585.08 385.32 585.48 385.32C585.88 385.32 586.31 386.15 586.76 387.17C587.21 388.19 587.72 389.77 588.19 391.43C588.67 393.09 589.14 395.34 589.61 397.12C590.08 398.90 590.55 400.84 591.03 402.10C591.50 403.36 591.91 404.28 592.46 404.66C593.01 405.04 593.67 404.45 594.31 404.38C594.95 404.31 595.73 404.14 596.30 404.24C596.87 404.34 597.44 404.83 597.72 404.95C598.00 405.07 597.70 404.52 597.98 404.95C598.26 405.38 598.86 406.44 599.40 407.51C599.94 408.58 600.66 410.40 601.25 411.35C601.84 412.30 602.32 412.77 602.96 413.20C603.60 413.63 604.38 413.62 605.09 413.91C605.80 414.20 606.52 414.51 607.23 414.91C607.94 415.31 608.70 415.86 609.36 416.33C610.02 416.80 610.62 417.27 611.21 417.75C611.80 418.23 612.40 418.78 612.92 419.18C613.44 419.58 613.91 419.98 614.34 420.17C614.77 420.36 615.12 420.71 615.48 420.31C615.84 419.91 616.14 419.60 616.47 417.75C616.80 415.90 617.11 412.54 617.47 409.22C617.83 405.90 618.18 401.63 618.61 397.84C619.04 394.04 619.56 389.30 620.03 386.45C620.50 383.60 620.98 381.94 621.45 380.76C621.93 379.57 622.40 379.29 622.88 379.34C623.36 379.39 623.78 379.87 624.30 381.05C624.82 382.24 625.42 384.13 626.01 386.45C626.60 388.77 627.24 391.91 627.86 394.99C628.48 398.07 629.12 402.11 629.71 404.95C630.30 407.79 630.84 410.64 631.41 412.06C631.98 413.48 632.53 413.06 633.12 413.49C633.71 413.92 634.35 414.15 634.97 414.62C635.59 415.09 636.23 415.81 636.82 416.33C637.41 416.85 637.96 417.39 638.53 417.75C639.10 418.11 639.64 418.42 640.23 418.47C640.82 418.52 641.53 418.21 642.08 418.04C642.63 417.87 643.03 417.40 643.51 417.47C643.99 417.54 644.46 418.14 644.93 418.47C645.40 418.80 645.81 419.29 646.35 419.46C646.89 419.62 647.61 419.39 648.20 419.46C648.79 419.53 649.34 419.77 649.91 419.89C650.48 420.01 651.10 420.05 651.62 420.17C652.14 420.29 652.66 420.77 653.04 420.60C653.42 420.44 653.58 420.60 653.89 419.18C654.20 417.76 654.56 415.14 654.89 412.06C655.22 408.98 655.48 404.95 655.88 400.68C656.28 396.41 656.83 390.48 657.31 386.45C657.78 382.42 658.26 378.99 658.73 376.50C659.20 374.01 659.72 372.47 660.15 371.52C660.58 370.57 660.86 370.68 661.29 370.80C661.72 370.92 662.19 371.28 662.71 372.23C663.23 373.18 663.83 374.84 664.42 376.50C665.01 378.16 665.65 380.29 666.27 382.19C666.89 384.09 667.53 385.87 668.12 387.88C668.71 389.89 669.26 392.26 669.83 394.28C670.40 396.29 670.94 398.19 671.53 399.97C672.12 401.75 672.76 403.53 673.38 404.95C674.00 406.37 674.64 407.51 675.23 408.51C675.82 409.50 676.30 410.21 676.94 410.92C677.58 411.63 678.41 412.10 679.07 412.77C679.73 413.44 680.33 414.08 680.92 414.91C681.51 415.74 682.06 416.97 682.63 417.75C683.20 418.53 683.75 419.17 684.34 419.60C684.93 420.03 685.53 420.19 686.19 420.31C686.85 420.43 687.68 420.33 688.32 420.31C688.96 420.29 689.55 420.60 690.03 420.17C690.50 419.74 690.79 419.57 691.17 417.75C691.55 415.93 691.93 412.78 692.31 409.22C692.69 405.66 693.06 400.68 693.44 396.41C693.82 392.14 694.27 387.64 694.58 383.61C694.89 379.58 694.93 375.31 695.29 372.23C695.64 369.15 696.28 366.72 696.71 365.11C697.14 363.50 697.47 363.02 697.85 362.55C698.23 362.08 698.59 361.96 698.99 362.27C699.39 362.58 699.82 362.98 700.27 364.40C700.72 365.82 701.15 368.07 701.69 370.80C702.24 373.53 702.95 377.68 703.54 380.76C704.13 383.84 704.68 386.69 705.25 389.30C705.82 391.91 706.37 394.28 706.96 396.41C707.55 398.54 708.15 400.91 708.81 402.10C709.47 403.29 710.23 403.34 710.94 403.53C711.65 403.72 712.41 403.41 713.07 403.24C713.73 403.07 714.33 402.53 714.92 402.53C715.51 402.53 716.35 403.12 716.63 403.24" fill="none" stroke="#2f80c0" stroke-width="1.10" stroke-linejoin="round" stroke-linecap="round"/>
<rect x="400.55" y="358.80" width="317.40" height="66.55" fill="none" stroke="#929292" stroke-width="1.35"/>
<line x1="400.55" y1="425.35" x2="400.55" y2="427.65" stroke="#333" stroke-width="0.8"/>
<text x="400.55" y="436.80" text-anchor="middle">0</text>
<line x1="453.45" y1="425.35" x2="453.45" y2="427.65" stroke="#333" stroke-width="0.8"/>
<text x="453.45" y="436.80" text-anchor="middle">50</text>
<line x1="506.35" y1="425.35" x2="506.35" y2="427.65" stroke="#333" stroke-width="0.8"/>
<text x="506.35" y="436.80" text-anchor="middle">100</text>
<line x1="559.25" y1="425.35" x2="559.25" y2="427.65" stroke="#333" stroke-width="0.8"/>
<text x="559.25" y="436.80" text-anchor="middle">150</text>
<line x1="612.15" y1="425.35" x2="612.15" y2="427.65" stroke="#333" stroke-width="0.8"/>
<text x="612.15" y="436.80" text-anchor="middle">200</text>
<line x1="665.05" y1="425.35" x2="665.05" y2="427.65" stroke="#333" stroke-width="0.8"/>
<text x="665.05" y="436.80" text-anchor="middle">250</text>
<line x1="717.95" y1="425.35" x2="717.95" y2="427.65" stroke="#333" stroke-width="0.8"/>
<text x="717.95" y="436.80" text-anchor="middle">300</text>
<line x1="398.25" y1="360.30" x2="400.55" y2="360.30" stroke="#333" stroke-width="0.8"/>
<text x="396.15" y="363.80" text-anchor="end">1</text>
<line x1="398.25" y1="392.90" x2="400.55" y2="392.90" stroke="#333" stroke-width="0.8"/>
<text x="396.15" y="396.40" text-anchor="end">0</text>
<text x="27.1" y="389.20" style="font-size:11.3px">e)</text>
<text x="376" y="462.9" text-anchor="middle" style="font-size:13.8px">Samples</text>
<text transform="translate(16.2 222) rotate(-90)" text-anchor="middle" style="font-size:14.1px">Amplitude</text>
</svg>
</body></html>
